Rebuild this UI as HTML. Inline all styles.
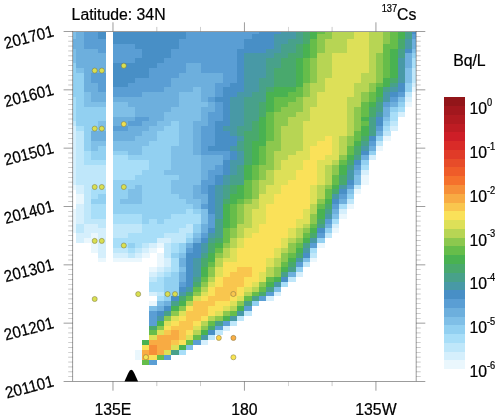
<!DOCTYPE html>
<html><head><meta charset="utf-8"><title>137Cs Hovmoller</title>
<style>
html,body{margin:0;padding:0;background:#fff;}
body{width:500px;height:420px;overflow:hidden;}
svg{display:block;}
text{font-family:"Liberation Sans",Arial,Helvetica,sans-serif;fill:#000;stroke:#000;stroke-width:0.22px;}
</style></head><body>
<svg width="500" height="420" viewBox="0 0 500 420">
<rect width="500" height="420" fill="#fff"/>
<g shape-rendering="crispEdges">
<rect x="72.80" y="31.50" width="3.70" height="2.48" fill="#7fbfe7"/>
<rect x="76.45" y="31.50" width="7.35" height="2.48" fill="#6dafdd"/>
<rect x="83.75" y="31.50" width="14.66" height="2.48" fill="#5a9ed4"/>
<rect x="98.36" y="31.50" width="7.35" height="2.48" fill="#488fc6"/>
<rect x="112.96" y="31.50" width="73.08" height="2.48" fill="#488fc6"/>
<rect x="185.99" y="31.50" width="73.07" height="2.48" fill="#5a9ed4"/>
<rect x="259.01" y="31.50" width="21.96" height="2.48" fill="#488fc6"/>
<rect x="280.92" y="31.50" width="14.66" height="2.48" fill="#4899a6"/>
<rect x="295.53" y="31.50" width="7.35" height="2.48" fill="#48a18a"/>
<rect x="302.83" y="31.50" width="7.35" height="2.48" fill="#49a96d"/>
<rect x="310.13" y="31.50" width="7.35" height="2.48" fill="#49b251"/>
<rect x="317.43" y="31.50" width="7.35" height="2.48" fill="#66bd4a"/>
<rect x="324.74" y="31.50" width="7.35" height="2.48" fill="#8cc84e"/>
<rect x="332.04" y="31.50" width="21.96" height="2.48" fill="#b7d554"/>
<rect x="353.94" y="31.50" width="14.66" height="2.48" fill="#dde058"/>
<rect x="368.55" y="31.50" width="14.65" height="2.48" fill="#b7d554"/>
<rect x="383.15" y="31.50" width="7.35" height="2.48" fill="#8cc84e"/>
<rect x="390.46" y="31.50" width="7.35" height="2.48" fill="#66bd4a"/>
<rect x="397.76" y="31.50" width="7.35" height="2.48" fill="#49b251"/>
<rect x="405.06" y="31.50" width="7.35" height="2.48" fill="#48a18a"/>
<rect x="412.37" y="31.50" width="3.79" height="2.48" fill="#488fc6"/>
<rect x="72.80" y="33.93" width="3.70" height="4.91" fill="#7fbfe7"/>
<rect x="76.45" y="33.93" width="7.35" height="4.91" fill="#6dafdd"/>
<rect x="83.75" y="33.93" width="14.66" height="4.91" fill="#5a9ed4"/>
<rect x="98.36" y="33.93" width="7.35" height="4.91" fill="#488fc6"/>
<rect x="112.96" y="33.93" width="73.08" height="4.91" fill="#488fc6"/>
<rect x="185.99" y="33.93" width="65.77" height="4.91" fill="#5a9ed4"/>
<rect x="251.71" y="33.93" width="21.96" height="4.91" fill="#488fc6"/>
<rect x="273.62" y="33.93" width="21.96" height="4.91" fill="#4899a6"/>
<rect x="295.53" y="33.93" width="7.35" height="4.91" fill="#48a18a"/>
<rect x="302.83" y="33.93" width="7.35" height="4.91" fill="#49a96d"/>
<rect x="310.13" y="33.93" width="7.35" height="4.91" fill="#49b251"/>
<rect x="317.43" y="33.93" width="14.66" height="4.91" fill="#8cc84e"/>
<rect x="332.04" y="33.93" width="21.96" height="4.91" fill="#b7d554"/>
<rect x="353.94" y="33.93" width="14.66" height="4.91" fill="#dde058"/>
<rect x="368.55" y="33.93" width="14.65" height="4.91" fill="#b7d554"/>
<rect x="383.15" y="33.93" width="7.35" height="4.91" fill="#8cc84e"/>
<rect x="390.46" y="33.93" width="7.35" height="4.91" fill="#66bd4a"/>
<rect x="397.76" y="33.93" width="7.35" height="4.91" fill="#49b251"/>
<rect x="405.06" y="33.93" width="7.35" height="4.91" fill="#48a18a"/>
<rect x="412.37" y="33.93" width="3.79" height="4.91" fill="#5a9ed4"/>
<rect x="72.80" y="38.79" width="11.00" height="4.91" fill="#6dafdd"/>
<rect x="83.75" y="38.79" width="21.96" height="4.91" fill="#5a9ed4"/>
<rect x="112.96" y="38.79" width="65.77" height="4.91" fill="#488fc6"/>
<rect x="178.69" y="38.79" width="65.77" height="4.91" fill="#5a9ed4"/>
<rect x="244.41" y="38.79" width="29.26" height="4.91" fill="#488fc6"/>
<rect x="273.62" y="38.79" width="14.66" height="4.91" fill="#4899a6"/>
<rect x="288.22" y="38.79" width="14.65" height="4.91" fill="#48a18a"/>
<rect x="302.83" y="38.79" width="7.35" height="4.91" fill="#49a96d"/>
<rect x="310.13" y="38.79" width="7.35" height="4.91" fill="#66bd4a"/>
<rect x="317.43" y="38.79" width="7.35" height="4.91" fill="#8cc84e"/>
<rect x="324.74" y="38.79" width="21.96" height="4.91" fill="#b7d554"/>
<rect x="346.64" y="38.79" width="21.96" height="4.91" fill="#dde058"/>
<rect x="368.55" y="38.79" width="14.65" height="4.91" fill="#b7d554"/>
<rect x="383.15" y="38.79" width="7.35" height="4.91" fill="#8cc84e"/>
<rect x="390.46" y="38.79" width="7.35" height="4.91" fill="#66bd4a"/>
<rect x="397.76" y="38.79" width="7.35" height="4.91" fill="#49a96d"/>
<rect x="405.06" y="38.79" width="7.35" height="4.91" fill="#4899a6"/>
<rect x="412.37" y="38.79" width="3.79" height="4.91" fill="#6dafdd"/>
<rect x="72.80" y="43.65" width="11.00" height="4.91" fill="#6dafdd"/>
<rect x="83.75" y="43.65" width="21.96" height="4.91" fill="#5a9ed4"/>
<rect x="112.96" y="43.65" width="21.96" height="4.91" fill="#5a9ed4"/>
<rect x="134.87" y="43.65" width="43.86" height="4.91" fill="#488fc6"/>
<rect x="178.69" y="43.65" width="65.77" height="4.91" fill="#5a9ed4"/>
<rect x="244.41" y="43.65" width="29.26" height="4.91" fill="#488fc6"/>
<rect x="273.62" y="43.65" width="7.35" height="4.91" fill="#4899a6"/>
<rect x="280.92" y="43.65" width="14.66" height="4.91" fill="#48a18a"/>
<rect x="295.53" y="43.65" width="7.35" height="4.91" fill="#49a96d"/>
<rect x="302.83" y="43.65" width="7.35" height="4.91" fill="#49b251"/>
<rect x="310.13" y="43.65" width="7.35" height="4.91" fill="#66bd4a"/>
<rect x="317.43" y="43.65" width="7.35" height="4.91" fill="#8cc84e"/>
<rect x="324.74" y="43.65" width="21.96" height="4.91" fill="#b7d554"/>
<rect x="346.64" y="43.65" width="21.96" height="4.91" fill="#dde058"/>
<rect x="368.55" y="43.65" width="14.65" height="4.91" fill="#b7d554"/>
<rect x="383.15" y="43.65" width="14.66" height="4.91" fill="#66bd4a"/>
<rect x="397.76" y="43.65" width="7.35" height="4.91" fill="#49a96d"/>
<rect x="405.06" y="43.65" width="7.35" height="4.91" fill="#4899a6"/>
<rect x="412.37" y="43.65" width="3.79" height="4.91" fill="#6dafdd"/>
<rect x="72.80" y="48.51" width="3.70" height="4.91" fill="#7fbfe7"/>
<rect x="76.45" y="48.51" width="21.96" height="4.91" fill="#6dafdd"/>
<rect x="98.36" y="48.51" width="7.35" height="4.91" fill="#5a9ed4"/>
<rect x="112.96" y="48.51" width="29.26" height="4.91" fill="#5a9ed4"/>
<rect x="142.17" y="48.51" width="29.26" height="4.91" fill="#488fc6"/>
<rect x="171.38" y="48.51" width="65.77" height="4.91" fill="#5a9ed4"/>
<rect x="237.11" y="48.51" width="29.26" height="4.91" fill="#488fc6"/>
<rect x="266.31" y="48.51" width="14.66" height="4.91" fill="#4899a6"/>
<rect x="280.92" y="48.51" width="14.66" height="4.91" fill="#48a18a"/>
<rect x="295.53" y="48.51" width="7.35" height="4.91" fill="#49a96d"/>
<rect x="302.83" y="48.51" width="7.35" height="4.91" fill="#49b251"/>
<rect x="310.13" y="48.51" width="7.35" height="4.91" fill="#66bd4a"/>
<rect x="317.43" y="48.51" width="7.35" height="4.91" fill="#8cc84e"/>
<rect x="324.74" y="48.51" width="21.96" height="4.91" fill="#b7d554"/>
<rect x="346.64" y="48.51" width="21.96" height="4.91" fill="#dde058"/>
<rect x="368.55" y="48.51" width="14.65" height="4.91" fill="#b7d554"/>
<rect x="383.15" y="48.51" width="7.35" height="4.91" fill="#66bd4a"/>
<rect x="390.46" y="48.51" width="7.35" height="4.91" fill="#49b251"/>
<rect x="397.76" y="48.51" width="7.35" height="4.91" fill="#48a18a"/>
<rect x="405.06" y="48.51" width="7.35" height="4.91" fill="#488fc6"/>
<rect x="412.37" y="48.51" width="3.79" height="4.91" fill="#7fbfe7"/>
<rect x="72.80" y="53.37" width="3.70" height="4.91" fill="#7fbfe7"/>
<rect x="76.45" y="53.37" width="29.26" height="4.91" fill="#6dafdd"/>
<rect x="112.96" y="53.37" width="29.26" height="4.91" fill="#5a9ed4"/>
<rect x="142.17" y="53.37" width="29.26" height="4.91" fill="#488fc6"/>
<rect x="171.38" y="53.37" width="65.77" height="4.91" fill="#5a9ed4"/>
<rect x="237.11" y="53.37" width="7.35" height="4.91" fill="#488fc6"/>
<rect x="244.41" y="53.37" width="29.26" height="4.91" fill="#4899a6"/>
<rect x="273.62" y="53.37" width="14.66" height="4.91" fill="#48a18a"/>
<rect x="288.22" y="53.37" width="14.65" height="4.91" fill="#49a96d"/>
<rect x="302.83" y="53.37" width="7.35" height="4.91" fill="#49b251"/>
<rect x="310.13" y="53.37" width="7.35" height="4.91" fill="#66bd4a"/>
<rect x="317.43" y="53.37" width="14.66" height="4.91" fill="#b7d554"/>
<rect x="332.04" y="53.37" width="36.56" height="4.91" fill="#dde058"/>
<rect x="368.55" y="53.37" width="7.35" height="4.91" fill="#b7d554"/>
<rect x="375.85" y="53.37" width="7.35" height="4.91" fill="#8cc84e"/>
<rect x="383.15" y="53.37" width="7.35" height="4.91" fill="#66bd4a"/>
<rect x="390.46" y="53.37" width="7.35" height="4.91" fill="#49b251"/>
<rect x="397.76" y="53.37" width="7.35" height="4.91" fill="#48a18a"/>
<rect x="405.06" y="53.37" width="7.35" height="4.91" fill="#6dafdd"/>
<rect x="412.37" y="53.37" width="3.79" height="4.91" fill="#92d0f1"/>
<rect x="72.80" y="58.23" width="3.70" height="4.91" fill="#7fbfe7"/>
<rect x="76.45" y="58.23" width="29.26" height="4.91" fill="#6dafdd"/>
<rect x="112.96" y="58.23" width="21.96" height="4.91" fill="#5a9ed4"/>
<rect x="134.87" y="58.23" width="29.26" height="4.91" fill="#488fc6"/>
<rect x="164.08" y="58.23" width="73.08" height="4.91" fill="#5a9ed4"/>
<rect x="237.11" y="58.23" width="7.35" height="4.91" fill="#488fc6"/>
<rect x="244.41" y="58.23" width="21.96" height="4.91" fill="#4899a6"/>
<rect x="266.31" y="58.23" width="14.66" height="4.91" fill="#48a18a"/>
<rect x="280.92" y="58.23" width="14.66" height="4.91" fill="#49a96d"/>
<rect x="295.53" y="58.23" width="7.35" height="4.91" fill="#49b251"/>
<rect x="302.83" y="58.23" width="7.35" height="4.91" fill="#66bd4a"/>
<rect x="310.13" y="58.23" width="7.35" height="4.91" fill="#8cc84e"/>
<rect x="317.43" y="58.23" width="14.66" height="4.91" fill="#b7d554"/>
<rect x="332.04" y="58.23" width="36.56" height="4.91" fill="#dde058"/>
<rect x="368.55" y="58.23" width="7.35" height="4.91" fill="#b7d554"/>
<rect x="375.85" y="58.23" width="7.35" height="4.91" fill="#8cc84e"/>
<rect x="383.15" y="58.23" width="7.35" height="4.91" fill="#66bd4a"/>
<rect x="390.46" y="58.23" width="7.35" height="4.91" fill="#49b251"/>
<rect x="397.76" y="58.23" width="7.35" height="4.91" fill="#4899a6"/>
<rect x="405.06" y="58.23" width="7.35" height="4.91" fill="#6dafdd"/>
<rect x="412.37" y="58.23" width="3.79" height="4.91" fill="#a8def8"/>
<rect x="72.80" y="63.10" width="3.70" height="4.91" fill="#92d0f1"/>
<rect x="76.45" y="63.10" width="29.26" height="4.91" fill="#6dafdd"/>
<rect x="112.96" y="63.10" width="43.86" height="4.91" fill="#488fc6"/>
<rect x="156.78" y="63.10" width="29.26" height="4.91" fill="#5a9ed4"/>
<rect x="185.99" y="63.10" width="14.65" height="4.91" fill="#6dafdd"/>
<rect x="200.59" y="63.10" width="36.56" height="4.91" fill="#5a9ed4"/>
<rect x="237.11" y="63.10" width="7.35" height="4.91" fill="#488fc6"/>
<rect x="244.41" y="63.10" width="21.96" height="4.91" fill="#4899a6"/>
<rect x="266.31" y="63.10" width="14.66" height="4.91" fill="#48a18a"/>
<rect x="280.92" y="63.10" width="14.66" height="4.91" fill="#49a96d"/>
<rect x="295.53" y="63.10" width="7.35" height="4.91" fill="#49b251"/>
<rect x="302.83" y="63.10" width="7.35" height="4.91" fill="#66bd4a"/>
<rect x="310.13" y="63.10" width="7.35" height="4.91" fill="#8cc84e"/>
<rect x="317.43" y="63.10" width="14.66" height="4.91" fill="#b7d554"/>
<rect x="332.04" y="63.10" width="36.56" height="4.91" fill="#dde058"/>
<rect x="368.55" y="63.10" width="7.35" height="4.91" fill="#b7d554"/>
<rect x="375.85" y="63.10" width="7.35" height="4.91" fill="#8cc84e"/>
<rect x="383.15" y="63.10" width="7.35" height="4.91" fill="#66bd4a"/>
<rect x="390.46" y="63.10" width="7.35" height="4.91" fill="#49b251"/>
<rect x="397.76" y="63.10" width="7.35" height="4.91" fill="#4899a6"/>
<rect x="405.06" y="63.10" width="7.35" height="4.91" fill="#6dafdd"/>
<rect x="412.37" y="63.10" width="3.79" height="4.91" fill="#a8def8"/>
<rect x="72.80" y="67.96" width="3.70" height="4.91" fill="#92d0f1"/>
<rect x="76.45" y="67.96" width="7.35" height="4.91" fill="#7fbfe7"/>
<rect x="83.75" y="67.96" width="21.96" height="4.91" fill="#6dafdd"/>
<rect x="112.96" y="67.96" width="36.56" height="4.91" fill="#488fc6"/>
<rect x="149.48" y="67.96" width="36.56" height="4.91" fill="#5a9ed4"/>
<rect x="185.99" y="67.96" width="14.65" height="4.91" fill="#6dafdd"/>
<rect x="200.59" y="67.96" width="36.56" height="4.91" fill="#5a9ed4"/>
<rect x="237.11" y="67.96" width="7.35" height="4.91" fill="#488fc6"/>
<rect x="244.41" y="67.96" width="21.96" height="4.91" fill="#4899a6"/>
<rect x="266.31" y="67.96" width="7.35" height="4.91" fill="#48a18a"/>
<rect x="273.62" y="67.96" width="21.96" height="4.91" fill="#49a96d"/>
<rect x="295.53" y="67.96" width="7.35" height="4.91" fill="#49b251"/>
<rect x="302.83" y="67.96" width="7.35" height="4.91" fill="#66bd4a"/>
<rect x="310.13" y="67.96" width="7.35" height="4.91" fill="#8cc84e"/>
<rect x="317.43" y="67.96" width="14.66" height="4.91" fill="#b7d554"/>
<rect x="332.04" y="67.96" width="36.56" height="4.91" fill="#dde058"/>
<rect x="368.55" y="67.96" width="7.35" height="4.91" fill="#b7d554"/>
<rect x="375.85" y="67.96" width="7.35" height="4.91" fill="#8cc84e"/>
<rect x="383.15" y="67.96" width="7.35" height="4.91" fill="#66bd4a"/>
<rect x="390.46" y="67.96" width="7.35" height="4.91" fill="#49b251"/>
<rect x="397.76" y="67.96" width="7.35" height="4.91" fill="#4899a6"/>
<rect x="405.06" y="67.96" width="7.35" height="4.91" fill="#7fbfe7"/>
<rect x="412.37" y="67.96" width="3.79" height="4.91" fill="#bfe7fa"/>
<rect x="72.80" y="72.82" width="11.00" height="4.91" fill="#92d0f1"/>
<rect x="83.75" y="72.82" width="7.35" height="4.91" fill="#6dafdd"/>
<rect x="91.06" y="72.82" width="14.65" height="4.91" fill="#5a9ed4"/>
<rect x="112.96" y="72.82" width="36.56" height="4.91" fill="#488fc6"/>
<rect x="149.48" y="72.82" width="29.26" height="4.91" fill="#5a9ed4"/>
<rect x="178.69" y="72.82" width="43.86" height="4.91" fill="#6dafdd"/>
<rect x="222.50" y="72.82" width="14.66" height="4.91" fill="#5a9ed4"/>
<rect x="237.11" y="72.82" width="7.35" height="4.91" fill="#488fc6"/>
<rect x="244.41" y="72.82" width="21.96" height="4.91" fill="#4899a6"/>
<rect x="266.31" y="72.82" width="7.35" height="4.91" fill="#48a18a"/>
<rect x="273.62" y="72.82" width="21.96" height="4.91" fill="#49a96d"/>
<rect x="295.53" y="72.82" width="7.35" height="4.91" fill="#49b251"/>
<rect x="302.83" y="72.82" width="7.35" height="4.91" fill="#66bd4a"/>
<rect x="310.13" y="72.82" width="7.35" height="4.91" fill="#8cc84e"/>
<rect x="317.43" y="72.82" width="14.66" height="4.91" fill="#b7d554"/>
<rect x="332.04" y="72.82" width="29.26" height="4.91" fill="#dde058"/>
<rect x="361.25" y="72.82" width="14.66" height="4.91" fill="#b7d554"/>
<rect x="375.85" y="72.82" width="7.35" height="4.91" fill="#8cc84e"/>
<rect x="383.15" y="72.82" width="7.35" height="4.91" fill="#66bd4a"/>
<rect x="390.46" y="72.82" width="7.35" height="4.91" fill="#49b251"/>
<rect x="397.76" y="72.82" width="7.35" height="4.91" fill="#4899a6"/>
<rect x="405.06" y="72.82" width="7.35" height="4.91" fill="#7fbfe7"/>
<rect x="412.37" y="72.82" width="3.79" height="4.91" fill="#bfe7fa"/>
<rect x="72.80" y="77.68" width="11.00" height="4.91" fill="#92d0f1"/>
<rect x="83.75" y="77.68" width="7.35" height="4.91" fill="#6dafdd"/>
<rect x="91.06" y="77.68" width="14.65" height="4.91" fill="#5a9ed4"/>
<rect x="112.96" y="77.68" width="21.96" height="4.91" fill="#488fc6"/>
<rect x="134.87" y="77.68" width="36.56" height="4.91" fill="#5a9ed4"/>
<rect x="171.38" y="77.68" width="51.17" height="4.91" fill="#6dafdd"/>
<rect x="222.50" y="77.68" width="14.66" height="4.91" fill="#5a9ed4"/>
<rect x="237.11" y="77.68" width="7.35" height="4.91" fill="#488fc6"/>
<rect x="244.41" y="77.68" width="14.65" height="4.91" fill="#4899a6"/>
<rect x="259.01" y="77.68" width="14.66" height="4.91" fill="#48a18a"/>
<rect x="273.62" y="77.68" width="21.96" height="4.91" fill="#49a96d"/>
<rect x="295.53" y="77.68" width="7.35" height="4.91" fill="#49b251"/>
<rect x="302.83" y="77.68" width="7.35" height="4.91" fill="#66bd4a"/>
<rect x="310.13" y="77.68" width="7.35" height="4.91" fill="#8cc84e"/>
<rect x="317.43" y="77.68" width="7.35" height="4.91" fill="#b7d554"/>
<rect x="324.74" y="77.68" width="36.56" height="4.91" fill="#dde058"/>
<rect x="361.25" y="77.68" width="14.66" height="4.91" fill="#b7d554"/>
<rect x="375.85" y="77.68" width="7.35" height="4.91" fill="#8cc84e"/>
<rect x="383.15" y="77.68" width="7.35" height="4.91" fill="#49b251"/>
<rect x="390.46" y="77.68" width="7.35" height="4.91" fill="#49a96d"/>
<rect x="397.76" y="77.68" width="7.35" height="4.91" fill="#4899a6"/>
<rect x="405.06" y="77.68" width="7.35" height="4.91" fill="#7fbfe7"/>
<rect x="412.37" y="77.68" width="3.79" height="4.91" fill="#bfe7fa"/>
<rect x="72.80" y="82.54" width="11.00" height="4.91" fill="#92d0f1"/>
<rect x="83.75" y="82.54" width="14.66" height="4.91" fill="#6dafdd"/>
<rect x="98.36" y="82.54" width="7.35" height="4.91" fill="#5a9ed4"/>
<rect x="112.96" y="82.54" width="14.65" height="4.91" fill="#488fc6"/>
<rect x="127.57" y="82.54" width="43.86" height="4.91" fill="#5a9ed4"/>
<rect x="171.38" y="82.54" width="43.86" height="4.91" fill="#6dafdd"/>
<rect x="215.20" y="82.54" width="14.66" height="4.91" fill="#5a9ed4"/>
<rect x="229.80" y="82.54" width="14.66" height="4.91" fill="#488fc6"/>
<rect x="244.41" y="82.54" width="14.65" height="4.91" fill="#4899a6"/>
<rect x="259.01" y="82.54" width="14.66" height="4.91" fill="#48a18a"/>
<rect x="273.62" y="82.54" width="21.96" height="4.91" fill="#49a96d"/>
<rect x="295.53" y="82.54" width="7.35" height="4.91" fill="#49b251"/>
<rect x="302.83" y="82.54" width="7.35" height="4.91" fill="#8cc84e"/>
<rect x="310.13" y="82.54" width="14.66" height="4.91" fill="#b7d554"/>
<rect x="324.74" y="82.54" width="29.26" height="4.91" fill="#dde058"/>
<rect x="353.94" y="82.54" width="14.66" height="4.91" fill="#b7d554"/>
<rect x="368.55" y="82.54" width="7.35" height="4.91" fill="#8cc84e"/>
<rect x="375.85" y="82.54" width="7.35" height="4.91" fill="#66bd4a"/>
<rect x="383.15" y="82.54" width="7.35" height="4.91" fill="#49b251"/>
<rect x="390.46" y="82.54" width="7.35" height="4.91" fill="#48a18a"/>
<rect x="397.76" y="82.54" width="7.35" height="4.91" fill="#488fc6"/>
<rect x="405.06" y="82.54" width="7.35" height="4.91" fill="#92d0f1"/>
<rect x="412.37" y="82.54" width="3.79" height="4.91" fill="#d5effc"/>
<rect x="72.80" y="87.40" width="11.00" height="4.91" fill="#92d0f1"/>
<rect x="83.75" y="87.40" width="14.66" height="4.91" fill="#6dafdd"/>
<rect x="98.36" y="87.40" width="7.35" height="4.91" fill="#5a9ed4"/>
<rect x="112.96" y="87.40" width="51.17" height="4.91" fill="#5a9ed4"/>
<rect x="164.08" y="87.40" width="29.26" height="4.91" fill="#6dafdd"/>
<rect x="193.29" y="87.40" width="7.35" height="4.91" fill="#7fbfe7"/>
<rect x="200.59" y="87.40" width="14.65" height="4.91" fill="#6dafdd"/>
<rect x="215.20" y="87.40" width="7.35" height="4.91" fill="#5a9ed4"/>
<rect x="222.50" y="87.40" width="21.96" height="4.91" fill="#488fc6"/>
<rect x="244.41" y="87.40" width="14.65" height="4.91" fill="#4899a6"/>
<rect x="259.01" y="87.40" width="7.35" height="4.91" fill="#48a18a"/>
<rect x="266.31" y="87.40" width="7.35" height="4.91" fill="#49a96d"/>
<rect x="273.62" y="87.40" width="21.96" height="4.91" fill="#49b251"/>
<rect x="295.53" y="87.40" width="7.35" height="4.91" fill="#66bd4a"/>
<rect x="302.83" y="87.40" width="7.35" height="4.91" fill="#8cc84e"/>
<rect x="310.13" y="87.40" width="14.66" height="4.91" fill="#b7d554"/>
<rect x="324.74" y="87.40" width="29.26" height="4.91" fill="#dde058"/>
<rect x="353.94" y="87.40" width="14.66" height="4.91" fill="#b7d554"/>
<rect x="368.55" y="87.40" width="7.35" height="4.91" fill="#8cc84e"/>
<rect x="375.85" y="87.40" width="7.35" height="4.91" fill="#49b251"/>
<rect x="383.15" y="87.40" width="7.35" height="4.91" fill="#48a18a"/>
<rect x="390.46" y="87.40" width="7.35" height="4.91" fill="#4899a6"/>
<rect x="397.76" y="87.40" width="7.35" height="4.91" fill="#488fc6"/>
<rect x="405.06" y="87.40" width="7.35" height="4.91" fill="#92d0f1"/>
<rect x="412.37" y="87.40" width="3.79" height="4.91" fill="#eaf7fd"/>
<rect x="72.80" y="92.26" width="11.00" height="4.91" fill="#92d0f1"/>
<rect x="83.75" y="92.26" width="7.35" height="4.91" fill="#7fbfe7"/>
<rect x="91.06" y="92.26" width="14.65" height="4.91" fill="#6dafdd"/>
<rect x="112.96" y="92.26" width="29.26" height="4.91" fill="#5a9ed4"/>
<rect x="142.17" y="92.26" width="36.56" height="4.91" fill="#6dafdd"/>
<rect x="178.69" y="92.26" width="21.96" height="4.91" fill="#7fbfe7"/>
<rect x="200.59" y="92.26" width="14.65" height="4.91" fill="#6dafdd"/>
<rect x="215.20" y="92.26" width="7.35" height="4.91" fill="#5a9ed4"/>
<rect x="222.50" y="92.26" width="14.66" height="4.91" fill="#488fc6"/>
<rect x="237.11" y="92.26" width="14.65" height="4.91" fill="#4899a6"/>
<rect x="251.71" y="92.26" width="14.66" height="4.91" fill="#48a18a"/>
<rect x="266.31" y="92.26" width="21.96" height="4.91" fill="#49b251"/>
<rect x="288.22" y="92.26" width="14.65" height="4.91" fill="#66bd4a"/>
<rect x="302.83" y="92.26" width="7.35" height="4.91" fill="#8cc84e"/>
<rect x="310.13" y="92.26" width="7.35" height="4.91" fill="#b7d554"/>
<rect x="317.43" y="92.26" width="36.56" height="4.91" fill="#dde058"/>
<rect x="353.94" y="92.26" width="7.35" height="4.91" fill="#b7d554"/>
<rect x="361.25" y="92.26" width="7.35" height="4.91" fill="#8cc84e"/>
<rect x="368.55" y="92.26" width="7.35" height="4.91" fill="#66bd4a"/>
<rect x="375.85" y="92.26" width="7.35" height="4.91" fill="#49b251"/>
<rect x="383.15" y="92.26" width="7.35" height="4.91" fill="#4899a6"/>
<rect x="390.46" y="92.26" width="7.35" height="4.91" fill="#488fc6"/>
<rect x="397.76" y="92.26" width="7.35" height="4.91" fill="#5a9ed4"/>
<rect x="405.06" y="92.26" width="7.35" height="4.91" fill="#bfe7fa"/>
<rect x="72.80" y="97.12" width="3.70" height="4.91" fill="#a8def8"/>
<rect x="76.45" y="97.12" width="7.35" height="4.91" fill="#92d0f1"/>
<rect x="83.75" y="97.12" width="7.35" height="4.91" fill="#7fbfe7"/>
<rect x="91.06" y="97.12" width="14.65" height="4.91" fill="#6dafdd"/>
<rect x="112.96" y="97.12" width="65.77" height="4.91" fill="#6dafdd"/>
<rect x="178.69" y="97.12" width="21.96" height="4.91" fill="#7fbfe7"/>
<rect x="200.59" y="97.12" width="7.35" height="4.91" fill="#6dafdd"/>
<rect x="207.89" y="97.12" width="7.35" height="4.91" fill="#5a9ed4"/>
<rect x="215.20" y="97.12" width="14.66" height="4.91" fill="#488fc6"/>
<rect x="229.80" y="97.12" width="14.66" height="4.91" fill="#4899a6"/>
<rect x="244.41" y="97.12" width="21.96" height="4.91" fill="#48a18a"/>
<rect x="266.31" y="97.12" width="7.35" height="4.91" fill="#49b251"/>
<rect x="273.62" y="97.12" width="21.96" height="4.91" fill="#66bd4a"/>
<rect x="295.53" y="97.12" width="7.35" height="4.91" fill="#8cc84e"/>
<rect x="302.83" y="97.12" width="14.66" height="4.91" fill="#b7d554"/>
<rect x="317.43" y="97.12" width="29.26" height="4.91" fill="#dde058"/>
<rect x="346.64" y="97.12" width="14.66" height="4.91" fill="#b7d554"/>
<rect x="361.25" y="97.12" width="7.35" height="4.91" fill="#8cc84e"/>
<rect x="368.55" y="97.12" width="7.35" height="4.91" fill="#66bd4a"/>
<rect x="375.85" y="97.12" width="7.35" height="4.91" fill="#49a96d"/>
<rect x="383.15" y="97.12" width="7.35" height="4.91" fill="#4899a6"/>
<rect x="390.46" y="97.12" width="7.35" height="4.91" fill="#5a9ed4"/>
<rect x="397.76" y="97.12" width="7.35" height="4.91" fill="#7fbfe7"/>
<rect x="405.06" y="97.12" width="7.35" height="4.91" fill="#d5effc"/>
<rect x="72.80" y="101.98" width="3.70" height="4.91" fill="#a8def8"/>
<rect x="76.45" y="101.98" width="7.35" height="4.91" fill="#92d0f1"/>
<rect x="83.75" y="101.98" width="21.96" height="4.91" fill="#7fbfe7"/>
<rect x="112.96" y="101.98" width="14.65" height="4.91" fill="#7fbfe7"/>
<rect x="127.57" y="101.98" width="51.17" height="4.91" fill="#6dafdd"/>
<rect x="178.69" y="101.98" width="29.26" height="4.91" fill="#7fbfe7"/>
<rect x="207.89" y="101.98" width="7.35" height="4.91" fill="#6dafdd"/>
<rect x="215.20" y="101.98" width="7.35" height="4.91" fill="#5a9ed4"/>
<rect x="222.50" y="101.98" width="7.35" height="4.91" fill="#488fc6"/>
<rect x="229.80" y="101.98" width="14.66" height="4.91" fill="#4899a6"/>
<rect x="244.41" y="101.98" width="14.65" height="4.91" fill="#48a18a"/>
<rect x="259.01" y="101.98" width="7.35" height="4.91" fill="#49a96d"/>
<rect x="266.31" y="101.98" width="7.35" height="4.91" fill="#49b251"/>
<rect x="273.62" y="101.98" width="14.66" height="4.91" fill="#66bd4a"/>
<rect x="288.22" y="101.98" width="14.65" height="4.91" fill="#8cc84e"/>
<rect x="302.83" y="101.98" width="14.66" height="4.91" fill="#b7d554"/>
<rect x="317.43" y="101.98" width="29.26" height="4.91" fill="#dde058"/>
<rect x="346.64" y="101.98" width="14.66" height="4.91" fill="#b7d554"/>
<rect x="361.25" y="101.98" width="7.35" height="4.91" fill="#66bd4a"/>
<rect x="368.55" y="101.98" width="7.35" height="4.91" fill="#49b251"/>
<rect x="375.85" y="101.98" width="7.35" height="4.91" fill="#48a18a"/>
<rect x="383.15" y="101.98" width="7.35" height="4.91" fill="#5a9ed4"/>
<rect x="390.46" y="101.98" width="7.35" height="4.91" fill="#6dafdd"/>
<rect x="397.76" y="101.98" width="7.35" height="4.91" fill="#92d0f1"/>
<rect x="405.06" y="101.98" width="7.35" height="4.91" fill="#eaf7fd"/>
<rect x="72.80" y="106.84" width="3.70" height="4.91" fill="#a8def8"/>
<rect x="76.45" y="106.84" width="29.26" height="4.91" fill="#92d0f1"/>
<rect x="112.96" y="106.84" width="21.96" height="4.91" fill="#7fbfe7"/>
<rect x="134.87" y="106.84" width="36.56" height="4.91" fill="#6dafdd"/>
<rect x="171.38" y="106.84" width="29.26" height="4.91" fill="#7fbfe7"/>
<rect x="200.59" y="106.84" width="14.65" height="4.91" fill="#6dafdd"/>
<rect x="215.20" y="106.84" width="7.35" height="4.91" fill="#5a9ed4"/>
<rect x="222.50" y="106.84" width="7.35" height="4.91" fill="#488fc6"/>
<rect x="229.80" y="106.84" width="14.66" height="4.91" fill="#4899a6"/>
<rect x="244.41" y="106.84" width="14.65" height="4.91" fill="#48a18a"/>
<rect x="259.01" y="106.84" width="7.35" height="4.91" fill="#49a96d"/>
<rect x="266.31" y="106.84" width="7.35" height="4.91" fill="#49b251"/>
<rect x="273.62" y="106.84" width="7.35" height="4.91" fill="#66bd4a"/>
<rect x="280.92" y="106.84" width="21.96" height="4.91" fill="#8cc84e"/>
<rect x="302.83" y="106.84" width="7.35" height="4.91" fill="#b7d554"/>
<rect x="310.13" y="106.84" width="36.56" height="4.91" fill="#dde058"/>
<rect x="346.64" y="106.84" width="7.35" height="4.91" fill="#b7d554"/>
<rect x="353.94" y="106.84" width="7.35" height="4.91" fill="#8cc84e"/>
<rect x="361.25" y="106.84" width="7.35" height="4.91" fill="#66bd4a"/>
<rect x="368.55" y="106.84" width="7.35" height="4.91" fill="#49a96d"/>
<rect x="375.85" y="106.84" width="7.35" height="4.91" fill="#48a18a"/>
<rect x="383.15" y="106.84" width="7.35" height="4.91" fill="#6dafdd"/>
<rect x="390.46" y="106.84" width="7.35" height="4.91" fill="#92d0f1"/>
<rect x="397.76" y="106.84" width="7.35" height="4.91" fill="#a8def8"/>
<rect x="72.80" y="111.71" width="3.70" height="4.91" fill="#a8def8"/>
<rect x="76.45" y="111.71" width="29.26" height="4.91" fill="#92d0f1"/>
<rect x="112.96" y="111.71" width="21.96" height="4.91" fill="#7fbfe7"/>
<rect x="134.87" y="111.71" width="29.26" height="4.91" fill="#6dafdd"/>
<rect x="164.08" y="111.71" width="36.56" height="4.91" fill="#7fbfe7"/>
<rect x="200.59" y="111.71" width="7.35" height="4.91" fill="#6dafdd"/>
<rect x="207.89" y="111.71" width="14.66" height="4.91" fill="#5a9ed4"/>
<rect x="222.50" y="111.71" width="7.35" height="4.91" fill="#488fc6"/>
<rect x="229.80" y="111.71" width="14.66" height="4.91" fill="#4899a6"/>
<rect x="244.41" y="111.71" width="14.65" height="4.91" fill="#48a18a"/>
<rect x="259.01" y="111.71" width="7.35" height="4.91" fill="#49a96d"/>
<rect x="266.31" y="111.71" width="7.35" height="4.91" fill="#66bd4a"/>
<rect x="273.62" y="111.71" width="21.96" height="4.91" fill="#8cc84e"/>
<rect x="295.53" y="111.71" width="14.65" height="4.91" fill="#b7d554"/>
<rect x="310.13" y="111.71" width="36.56" height="4.91" fill="#dde058"/>
<rect x="346.64" y="111.71" width="7.35" height="4.91" fill="#b7d554"/>
<rect x="353.94" y="111.71" width="7.35" height="4.91" fill="#8cc84e"/>
<rect x="361.25" y="111.71" width="7.35" height="4.91" fill="#66bd4a"/>
<rect x="368.55" y="111.71" width="7.35" height="4.91" fill="#49a96d"/>
<rect x="375.85" y="111.71" width="7.35" height="4.91" fill="#4899a6"/>
<rect x="383.15" y="111.71" width="7.35" height="4.91" fill="#6dafdd"/>
<rect x="390.46" y="111.71" width="7.35" height="4.91" fill="#a8def8"/>
<rect x="397.76" y="111.71" width="7.35" height="4.91" fill="#d5effc"/>
<rect x="72.80" y="116.57" width="3.70" height="4.91" fill="#a8def8"/>
<rect x="76.45" y="116.57" width="29.26" height="4.91" fill="#92d0f1"/>
<rect x="112.96" y="116.57" width="21.96" height="4.91" fill="#6dafdd"/>
<rect x="134.87" y="116.57" width="14.66" height="4.91" fill="#5a9ed4"/>
<rect x="149.48" y="116.57" width="14.65" height="4.91" fill="#6dafdd"/>
<rect x="164.08" y="116.57" width="36.56" height="4.91" fill="#7fbfe7"/>
<rect x="200.59" y="116.57" width="7.35" height="4.91" fill="#6dafdd"/>
<rect x="207.89" y="116.57" width="14.66" height="4.91" fill="#5a9ed4"/>
<rect x="222.50" y="116.57" width="7.35" height="4.91" fill="#488fc6"/>
<rect x="229.80" y="116.57" width="14.66" height="4.91" fill="#4899a6"/>
<rect x="244.41" y="116.57" width="14.65" height="4.91" fill="#48a18a"/>
<rect x="259.01" y="116.57" width="7.35" height="4.91" fill="#49b251"/>
<rect x="266.31" y="116.57" width="7.35" height="4.91" fill="#66bd4a"/>
<rect x="273.62" y="116.57" width="14.66" height="4.91" fill="#8cc84e"/>
<rect x="288.22" y="116.57" width="21.96" height="4.91" fill="#b7d554"/>
<rect x="310.13" y="116.57" width="36.56" height="4.91" fill="#dde058"/>
<rect x="346.64" y="116.57" width="7.35" height="4.91" fill="#b7d554"/>
<rect x="353.94" y="116.57" width="7.35" height="4.91" fill="#8cc84e"/>
<rect x="361.25" y="116.57" width="7.35" height="4.91" fill="#49b251"/>
<rect x="368.55" y="116.57" width="7.35" height="4.91" fill="#48a18a"/>
<rect x="375.85" y="116.57" width="7.35" height="4.91" fill="#488fc6"/>
<rect x="383.15" y="116.57" width="7.35" height="4.91" fill="#7fbfe7"/>
<rect x="390.46" y="116.57" width="7.35" height="4.91" fill="#a8def8"/>
<rect x="72.80" y="121.43" width="3.70" height="4.91" fill="#bfe7fa"/>
<rect x="76.45" y="121.43" width="21.96" height="4.91" fill="#92d0f1"/>
<rect x="98.36" y="121.43" width="7.35" height="4.91" fill="#7fbfe7"/>
<rect x="112.96" y="121.43" width="14.65" height="4.91" fill="#6dafdd"/>
<rect x="127.57" y="121.43" width="14.66" height="4.91" fill="#5a9ed4"/>
<rect x="142.17" y="121.43" width="14.65" height="4.91" fill="#6dafdd"/>
<rect x="156.78" y="121.43" width="14.65" height="4.91" fill="#7fbfe7"/>
<rect x="171.38" y="121.43" width="7.35" height="4.91" fill="#92d0f1"/>
<rect x="178.69" y="121.43" width="14.66" height="4.91" fill="#7fbfe7"/>
<rect x="193.29" y="121.43" width="14.65" height="4.91" fill="#6dafdd"/>
<rect x="207.89" y="121.43" width="7.35" height="4.91" fill="#5a9ed4"/>
<rect x="215.20" y="121.43" width="14.66" height="4.91" fill="#488fc6"/>
<rect x="229.80" y="121.43" width="14.66" height="4.91" fill="#4899a6"/>
<rect x="244.41" y="121.43" width="7.35" height="4.91" fill="#48a18a"/>
<rect x="251.71" y="121.43" width="7.35" height="4.91" fill="#49a96d"/>
<rect x="259.01" y="121.43" width="7.35" height="4.91" fill="#49b251"/>
<rect x="266.31" y="121.43" width="7.35" height="4.91" fill="#66bd4a"/>
<rect x="273.62" y="121.43" width="14.66" height="4.91" fill="#8cc84e"/>
<rect x="288.22" y="121.43" width="14.65" height="4.91" fill="#b7d554"/>
<rect x="302.83" y="121.43" width="43.86" height="4.91" fill="#dde058"/>
<rect x="346.64" y="121.43" width="7.35" height="4.91" fill="#b7d554"/>
<rect x="353.94" y="121.43" width="7.35" height="4.91" fill="#8cc84e"/>
<rect x="361.25" y="121.43" width="7.35" height="4.91" fill="#66bd4a"/>
<rect x="368.55" y="121.43" width="7.35" height="4.91" fill="#48a18a"/>
<rect x="375.85" y="121.43" width="7.35" height="4.91" fill="#488fc6"/>
<rect x="383.15" y="121.43" width="7.35" height="4.91" fill="#92d0f1"/>
<rect x="390.46" y="121.43" width="7.35" height="4.91" fill="#bfe7fa"/>
<rect x="72.80" y="126.29" width="3.70" height="4.91" fill="#d5effc"/>
<rect x="76.45" y="126.29" width="7.35" height="4.91" fill="#a8def8"/>
<rect x="83.75" y="126.29" width="14.66" height="4.91" fill="#92d0f1"/>
<rect x="98.36" y="126.29" width="7.35" height="4.91" fill="#7fbfe7"/>
<rect x="112.96" y="126.29" width="14.65" height="4.91" fill="#5a9ed4"/>
<rect x="127.57" y="126.29" width="21.96" height="4.91" fill="#6dafdd"/>
<rect x="149.48" y="126.29" width="14.65" height="4.91" fill="#7fbfe7"/>
<rect x="164.08" y="126.29" width="14.66" height="4.91" fill="#92d0f1"/>
<rect x="178.69" y="126.29" width="14.66" height="4.91" fill="#7fbfe7"/>
<rect x="193.29" y="126.29" width="7.35" height="4.91" fill="#6dafdd"/>
<rect x="200.59" y="126.29" width="14.65" height="4.91" fill="#5a9ed4"/>
<rect x="215.20" y="126.29" width="7.35" height="4.91" fill="#488fc6"/>
<rect x="222.50" y="126.29" width="14.66" height="4.91" fill="#4899a6"/>
<rect x="237.11" y="126.29" width="14.65" height="4.91" fill="#48a18a"/>
<rect x="251.71" y="126.29" width="7.35" height="4.91" fill="#49a96d"/>
<rect x="259.01" y="126.29" width="7.35" height="4.91" fill="#49b251"/>
<rect x="266.31" y="126.29" width="7.35" height="4.91" fill="#66bd4a"/>
<rect x="273.62" y="126.29" width="7.35" height="4.91" fill="#8cc84e"/>
<rect x="280.92" y="126.29" width="21.96" height="4.91" fill="#b7d554"/>
<rect x="302.83" y="126.29" width="43.86" height="4.91" fill="#dde058"/>
<rect x="346.64" y="126.29" width="7.35" height="4.91" fill="#b7d554"/>
<rect x="353.94" y="126.29" width="7.35" height="4.91" fill="#8cc84e"/>
<rect x="361.25" y="126.29" width="7.35" height="4.91" fill="#49b251"/>
<rect x="368.55" y="126.29" width="7.35" height="4.91" fill="#48a18a"/>
<rect x="375.85" y="126.29" width="7.35" height="4.91" fill="#5a9ed4"/>
<rect x="383.15" y="126.29" width="7.35" height="4.91" fill="#a8def8"/>
<rect x="390.46" y="126.29" width="7.35" height="4.91" fill="#d5effc"/>
<rect x="72.80" y="131.15" width="3.70" height="4.91" fill="#d5effc"/>
<rect x="76.45" y="131.15" width="7.35" height="4.91" fill="#bfe7fa"/>
<rect x="83.75" y="131.15" width="7.35" height="4.91" fill="#92d0f1"/>
<rect x="91.06" y="131.15" width="14.65" height="4.91" fill="#6dafdd"/>
<rect x="112.96" y="131.15" width="29.26" height="4.91" fill="#6dafdd"/>
<rect x="142.17" y="131.15" width="14.65" height="4.91" fill="#7fbfe7"/>
<rect x="156.78" y="131.15" width="21.96" height="4.91" fill="#92d0f1"/>
<rect x="178.69" y="131.15" width="14.66" height="4.91" fill="#7fbfe7"/>
<rect x="193.29" y="131.15" width="7.35" height="4.91" fill="#6dafdd"/>
<rect x="200.59" y="131.15" width="14.65" height="4.91" fill="#5a9ed4"/>
<rect x="215.20" y="131.15" width="14.66" height="4.91" fill="#488fc6"/>
<rect x="229.80" y="131.15" width="7.35" height="4.91" fill="#4899a6"/>
<rect x="237.11" y="131.15" width="7.35" height="4.91" fill="#48a18a"/>
<rect x="244.41" y="131.15" width="14.65" height="4.91" fill="#49a96d"/>
<rect x="259.01" y="131.15" width="7.35" height="4.91" fill="#49b251"/>
<rect x="266.31" y="131.15" width="7.35" height="4.91" fill="#66bd4a"/>
<rect x="273.62" y="131.15" width="7.35" height="4.91" fill="#8cc84e"/>
<rect x="280.92" y="131.15" width="21.96" height="4.91" fill="#b7d554"/>
<rect x="302.83" y="131.15" width="43.86" height="4.91" fill="#dde058"/>
<rect x="346.64" y="131.15" width="7.35" height="4.91" fill="#b7d554"/>
<rect x="353.94" y="131.15" width="7.35" height="4.91" fill="#66bd4a"/>
<rect x="361.25" y="131.15" width="7.35" height="4.91" fill="#49b251"/>
<rect x="368.55" y="131.15" width="7.35" height="4.91" fill="#48a18a"/>
<rect x="375.85" y="131.15" width="7.35" height="4.91" fill="#6dafdd"/>
<rect x="383.15" y="131.15" width="7.35" height="4.91" fill="#bfe7fa"/>
<rect x="72.80" y="136.01" width="3.70" height="4.91" fill="#d5effc"/>
<rect x="76.45" y="136.01" width="7.35" height="4.91" fill="#bfe7fa"/>
<rect x="83.75" y="136.01" width="7.35" height="4.91" fill="#92d0f1"/>
<rect x="91.06" y="136.01" width="14.65" height="4.91" fill="#6dafdd"/>
<rect x="112.96" y="136.01" width="21.96" height="4.91" fill="#6dafdd"/>
<rect x="134.87" y="136.01" width="21.96" height="4.91" fill="#7fbfe7"/>
<rect x="156.78" y="136.01" width="21.96" height="4.91" fill="#92d0f1"/>
<rect x="178.69" y="136.01" width="14.66" height="4.91" fill="#7fbfe7"/>
<rect x="193.29" y="136.01" width="7.35" height="4.91" fill="#6dafdd"/>
<rect x="200.59" y="136.01" width="14.65" height="4.91" fill="#5a9ed4"/>
<rect x="215.20" y="136.01" width="21.96" height="4.91" fill="#488fc6"/>
<rect x="237.11" y="136.01" width="7.35" height="4.91" fill="#4899a6"/>
<rect x="244.41" y="136.01" width="14.65" height="4.91" fill="#49a96d"/>
<rect x="259.01" y="136.01" width="7.35" height="4.91" fill="#49b251"/>
<rect x="266.31" y="136.01" width="7.35" height="4.91" fill="#66bd4a"/>
<rect x="273.62" y="136.01" width="7.35" height="4.91" fill="#8cc84e"/>
<rect x="280.92" y="136.01" width="21.96" height="4.91" fill="#b7d554"/>
<rect x="302.83" y="136.01" width="21.96" height="4.91" fill="#dde058"/>
<rect x="324.74" y="136.01" width="7.35" height="4.91" fill="#fae159"/>
<rect x="332.04" y="136.01" width="7.35" height="4.91" fill="#dde058"/>
<rect x="339.34" y="136.01" width="7.35" height="4.91" fill="#b7d554"/>
<rect x="346.64" y="136.01" width="7.35" height="4.91" fill="#8cc84e"/>
<rect x="353.94" y="136.01" width="7.35" height="4.91" fill="#66bd4a"/>
<rect x="361.25" y="136.01" width="7.35" height="4.91" fill="#49a96d"/>
<rect x="368.55" y="136.01" width="7.35" height="4.91" fill="#488fc6"/>
<rect x="375.85" y="136.01" width="7.35" height="4.91" fill="#92d0f1"/>
<rect x="383.15" y="136.01" width="7.35" height="4.91" fill="#eaf7fd"/>
<rect x="72.80" y="140.87" width="3.70" height="4.91" fill="#d5effc"/>
<rect x="76.45" y="140.87" width="7.35" height="4.91" fill="#bfe7fa"/>
<rect x="83.75" y="140.87" width="7.35" height="4.91" fill="#92d0f1"/>
<rect x="91.06" y="140.87" width="14.65" height="4.91" fill="#7fbfe7"/>
<rect x="112.96" y="140.87" width="36.56" height="4.91" fill="#7fbfe7"/>
<rect x="149.48" y="140.87" width="29.26" height="4.91" fill="#92d0f1"/>
<rect x="178.69" y="140.87" width="14.66" height="4.91" fill="#7fbfe7"/>
<rect x="193.29" y="140.87" width="7.35" height="4.91" fill="#6dafdd"/>
<rect x="200.59" y="140.87" width="14.65" height="4.91" fill="#5a9ed4"/>
<rect x="215.20" y="140.87" width="21.96" height="4.91" fill="#488fc6"/>
<rect x="237.11" y="140.87" width="7.35" height="4.91" fill="#48a18a"/>
<rect x="244.41" y="140.87" width="7.35" height="4.91" fill="#49a96d"/>
<rect x="251.71" y="140.87" width="14.66" height="4.91" fill="#49b251"/>
<rect x="266.31" y="140.87" width="14.66" height="4.91" fill="#8cc84e"/>
<rect x="280.92" y="140.87" width="21.96" height="4.91" fill="#b7d554"/>
<rect x="302.83" y="140.87" width="14.66" height="4.91" fill="#dde058"/>
<rect x="317.43" y="140.87" width="14.66" height="4.91" fill="#fae159"/>
<rect x="332.04" y="140.87" width="7.35" height="4.91" fill="#dde058"/>
<rect x="339.34" y="140.87" width="7.35" height="4.91" fill="#b7d554"/>
<rect x="346.64" y="140.87" width="7.35" height="4.91" fill="#8cc84e"/>
<rect x="353.94" y="140.87" width="7.35" height="4.91" fill="#49b251"/>
<rect x="361.25" y="140.87" width="7.35" height="4.91" fill="#48a18a"/>
<rect x="368.55" y="140.87" width="7.35" height="4.91" fill="#5a9ed4"/>
<rect x="375.85" y="140.87" width="7.35" height="4.91" fill="#bfe7fa"/>
<rect x="72.80" y="145.73" width="3.70" height="4.91" fill="#d5effc"/>
<rect x="76.45" y="145.73" width="7.35" height="4.91" fill="#bfe7fa"/>
<rect x="83.75" y="145.73" width="7.35" height="4.91" fill="#92d0f1"/>
<rect x="91.06" y="145.73" width="7.35" height="4.91" fill="#7fbfe7"/>
<rect x="98.36" y="145.73" width="7.35" height="4.91" fill="#92d0f1"/>
<rect x="112.96" y="145.73" width="29.26" height="4.91" fill="#7fbfe7"/>
<rect x="142.17" y="145.73" width="29.26" height="4.91" fill="#92d0f1"/>
<rect x="171.38" y="145.73" width="21.96" height="4.91" fill="#7fbfe7"/>
<rect x="193.29" y="145.73" width="7.35" height="4.91" fill="#6dafdd"/>
<rect x="200.59" y="145.73" width="7.35" height="4.91" fill="#5a9ed4"/>
<rect x="207.89" y="145.73" width="21.96" height="4.91" fill="#488fc6"/>
<rect x="229.80" y="145.73" width="7.35" height="4.91" fill="#4899a6"/>
<rect x="237.11" y="145.73" width="7.35" height="4.91" fill="#48a18a"/>
<rect x="244.41" y="145.73" width="7.35" height="4.91" fill="#49a96d"/>
<rect x="251.71" y="145.73" width="7.35" height="4.91" fill="#49b251"/>
<rect x="259.01" y="145.73" width="7.35" height="4.91" fill="#66bd4a"/>
<rect x="266.31" y="145.73" width="14.66" height="4.91" fill="#8cc84e"/>
<rect x="280.92" y="145.73" width="21.96" height="4.91" fill="#b7d554"/>
<rect x="302.83" y="145.73" width="7.35" height="4.91" fill="#dde058"/>
<rect x="310.13" y="145.73" width="21.96" height="4.91" fill="#fae159"/>
<rect x="332.04" y="145.73" width="7.35" height="4.91" fill="#dde058"/>
<rect x="339.34" y="145.73" width="7.35" height="4.91" fill="#b7d554"/>
<rect x="346.64" y="145.73" width="7.35" height="4.91" fill="#66bd4a"/>
<rect x="353.94" y="145.73" width="7.35" height="4.91" fill="#49a96d"/>
<rect x="361.25" y="145.73" width="7.35" height="4.91" fill="#4899a6"/>
<rect x="368.55" y="145.73" width="7.35" height="4.91" fill="#6dafdd"/>
<rect x="375.85" y="145.73" width="7.35" height="4.91" fill="#eaf7fd"/>
<rect x="72.80" y="150.59" width="3.70" height="4.91" fill="#d5effc"/>
<rect x="76.45" y="150.59" width="7.35" height="4.91" fill="#bfe7fa"/>
<rect x="83.75" y="150.59" width="7.35" height="4.91" fill="#a8def8"/>
<rect x="91.06" y="150.59" width="14.65" height="4.91" fill="#92d0f1"/>
<rect x="112.96" y="150.59" width="14.65" height="4.91" fill="#92d0f1"/>
<rect x="127.57" y="150.59" width="14.66" height="4.91" fill="#7fbfe7"/>
<rect x="142.17" y="150.59" width="29.26" height="4.91" fill="#92d0f1"/>
<rect x="171.38" y="150.59" width="21.96" height="4.91" fill="#7fbfe7"/>
<rect x="193.29" y="150.59" width="7.35" height="4.91" fill="#6dafdd"/>
<rect x="200.59" y="150.59" width="29.26" height="4.91" fill="#5a9ed4"/>
<rect x="229.80" y="150.59" width="7.35" height="4.91" fill="#488fc6"/>
<rect x="237.11" y="150.59" width="7.35" height="4.91" fill="#4899a6"/>
<rect x="244.41" y="150.59" width="7.35" height="4.91" fill="#49a96d"/>
<rect x="251.71" y="150.59" width="7.35" height="4.91" fill="#49b251"/>
<rect x="259.01" y="150.59" width="7.35" height="4.91" fill="#66bd4a"/>
<rect x="266.31" y="150.59" width="7.35" height="4.91" fill="#8cc84e"/>
<rect x="273.62" y="150.59" width="21.96" height="4.91" fill="#b7d554"/>
<rect x="295.53" y="150.59" width="14.65" height="4.91" fill="#dde058"/>
<rect x="310.13" y="150.59" width="21.96" height="4.91" fill="#fae159"/>
<rect x="332.04" y="150.59" width="7.35" height="4.91" fill="#dde058"/>
<rect x="339.34" y="150.59" width="7.35" height="4.91" fill="#b7d554"/>
<rect x="346.64" y="150.59" width="7.35" height="4.91" fill="#66bd4a"/>
<rect x="353.94" y="150.59" width="7.35" height="4.91" fill="#49a96d"/>
<rect x="361.25" y="150.59" width="7.35" height="4.91" fill="#488fc6"/>
<rect x="368.55" y="150.59" width="7.35" height="4.91" fill="#92d0f1"/>
<rect x="72.80" y="155.45" width="3.70" height="4.91" fill="#d5effc"/>
<rect x="76.45" y="155.45" width="7.35" height="4.91" fill="#bfe7fa"/>
<rect x="83.75" y="155.45" width="7.35" height="4.91" fill="#a8def8"/>
<rect x="91.06" y="155.45" width="14.65" height="4.91" fill="#92d0f1"/>
<rect x="112.96" y="155.45" width="14.65" height="4.91" fill="#a8def8"/>
<rect x="127.57" y="155.45" width="43.86" height="4.91" fill="#92d0f1"/>
<rect x="171.38" y="155.45" width="29.26" height="4.91" fill="#7fbfe7"/>
<rect x="200.59" y="155.45" width="21.96" height="4.91" fill="#6dafdd"/>
<rect x="222.50" y="155.45" width="7.35" height="4.91" fill="#5a9ed4"/>
<rect x="229.80" y="155.45" width="7.35" height="4.91" fill="#488fc6"/>
<rect x="237.11" y="155.45" width="7.35" height="4.91" fill="#4899a6"/>
<rect x="244.41" y="155.45" width="7.35" height="4.91" fill="#49a96d"/>
<rect x="251.71" y="155.45" width="7.35" height="4.91" fill="#49b251"/>
<rect x="259.01" y="155.45" width="7.35" height="4.91" fill="#66bd4a"/>
<rect x="266.31" y="155.45" width="7.35" height="4.91" fill="#8cc84e"/>
<rect x="273.62" y="155.45" width="14.66" height="4.91" fill="#b7d554"/>
<rect x="288.22" y="155.45" width="21.96" height="4.91" fill="#dde058"/>
<rect x="310.13" y="155.45" width="14.66" height="4.91" fill="#fae159"/>
<rect x="324.74" y="155.45" width="14.65" height="4.91" fill="#dde058"/>
<rect x="339.34" y="155.45" width="7.35" height="4.91" fill="#8cc84e"/>
<rect x="346.64" y="155.45" width="7.35" height="4.91" fill="#49b251"/>
<rect x="353.94" y="155.45" width="7.35" height="4.91" fill="#48a18a"/>
<rect x="361.25" y="155.45" width="7.35" height="4.91" fill="#6dafdd"/>
<rect x="368.55" y="155.45" width="7.35" height="4.91" fill="#d5effc"/>
<rect x="72.80" y="160.32" width="3.70" height="4.91" fill="#d5effc"/>
<rect x="76.45" y="160.32" width="7.35" height="4.91" fill="#bfe7fa"/>
<rect x="83.75" y="160.32" width="21.96" height="4.91" fill="#a8def8"/>
<rect x="112.96" y="160.32" width="36.56" height="4.91" fill="#a8def8"/>
<rect x="149.48" y="160.32" width="21.96" height="4.91" fill="#92d0f1"/>
<rect x="171.38" y="160.32" width="29.26" height="4.91" fill="#7fbfe7"/>
<rect x="200.59" y="160.32" width="21.96" height="4.91" fill="#6dafdd"/>
<rect x="222.50" y="160.32" width="7.35" height="4.91" fill="#488fc6"/>
<rect x="229.80" y="160.32" width="14.66" height="4.91" fill="#4899a6"/>
<rect x="244.41" y="160.32" width="7.35" height="4.91" fill="#49a96d"/>
<rect x="251.71" y="160.32" width="7.35" height="4.91" fill="#49b251"/>
<rect x="259.01" y="160.32" width="7.35" height="4.91" fill="#66bd4a"/>
<rect x="266.31" y="160.32" width="7.35" height="4.91" fill="#8cc84e"/>
<rect x="273.62" y="160.32" width="7.35" height="4.91" fill="#b7d554"/>
<rect x="280.92" y="160.32" width="21.96" height="4.91" fill="#dde058"/>
<rect x="302.83" y="160.32" width="14.66" height="4.91" fill="#fae159"/>
<rect x="317.43" y="160.32" width="14.66" height="4.91" fill="#dde058"/>
<rect x="332.04" y="160.32" width="7.35" height="4.91" fill="#b7d554"/>
<rect x="339.34" y="160.32" width="7.35" height="4.91" fill="#66bd4a"/>
<rect x="346.64" y="160.32" width="7.35" height="4.91" fill="#49a96d"/>
<rect x="353.94" y="160.32" width="7.35" height="4.91" fill="#488fc6"/>
<rect x="361.25" y="160.32" width="7.35" height="4.91" fill="#92d0f1"/>
<rect x="72.80" y="165.18" width="3.70" height="4.91" fill="#d5effc"/>
<rect x="76.45" y="165.18" width="29.26" height="4.91" fill="#bfe7fa"/>
<rect x="112.96" y="165.18" width="36.56" height="4.91" fill="#a8def8"/>
<rect x="149.48" y="165.18" width="21.96" height="4.91" fill="#92d0f1"/>
<rect x="171.38" y="165.18" width="29.26" height="4.91" fill="#7fbfe7"/>
<rect x="200.59" y="165.18" width="14.65" height="4.91" fill="#6dafdd"/>
<rect x="215.20" y="165.18" width="7.35" height="4.91" fill="#5a9ed4"/>
<rect x="222.50" y="165.18" width="7.35" height="4.91" fill="#488fc6"/>
<rect x="229.80" y="165.18" width="7.35" height="4.91" fill="#4899a6"/>
<rect x="237.11" y="165.18" width="7.35" height="4.91" fill="#48a18a"/>
<rect x="244.41" y="165.18" width="7.35" height="4.91" fill="#49b251"/>
<rect x="251.71" y="165.18" width="7.35" height="4.91" fill="#66bd4a"/>
<rect x="259.01" y="165.18" width="14.66" height="4.91" fill="#8cc84e"/>
<rect x="273.62" y="165.18" width="7.35" height="4.91" fill="#b7d554"/>
<rect x="280.92" y="165.18" width="21.96" height="4.91" fill="#dde058"/>
<rect x="302.83" y="165.18" width="14.66" height="4.91" fill="#fae159"/>
<rect x="317.43" y="165.18" width="7.35" height="4.91" fill="#dde058"/>
<rect x="324.74" y="165.18" width="7.35" height="4.91" fill="#b7d554"/>
<rect x="332.04" y="165.18" width="7.35" height="4.91" fill="#8cc84e"/>
<rect x="339.34" y="165.18" width="7.35" height="4.91" fill="#49b251"/>
<rect x="346.64" y="165.18" width="7.35" height="4.91" fill="#48a18a"/>
<rect x="353.94" y="165.18" width="7.35" height="4.91" fill="#5a9ed4"/>
<rect x="361.25" y="165.18" width="7.35" height="4.91" fill="#a8def8"/>
<rect x="72.80" y="170.04" width="3.70" height="4.91" fill="#d5effc"/>
<rect x="76.45" y="170.04" width="29.26" height="4.91" fill="#bfe7fa"/>
<rect x="112.96" y="170.04" width="29.26" height="4.91" fill="#a8def8"/>
<rect x="142.17" y="170.04" width="21.96" height="4.91" fill="#92d0f1"/>
<rect x="164.08" y="170.04" width="36.56" height="4.91" fill="#7fbfe7"/>
<rect x="200.59" y="170.04" width="7.35" height="4.91" fill="#6dafdd"/>
<rect x="207.89" y="170.04" width="14.66" height="4.91" fill="#5a9ed4"/>
<rect x="222.50" y="170.04" width="7.35" height="4.91" fill="#488fc6"/>
<rect x="229.80" y="170.04" width="7.35" height="4.91" fill="#4899a6"/>
<rect x="237.11" y="170.04" width="7.35" height="4.91" fill="#48a18a"/>
<rect x="244.41" y="170.04" width="7.35" height="4.91" fill="#49b251"/>
<rect x="251.71" y="170.04" width="7.35" height="4.91" fill="#66bd4a"/>
<rect x="259.01" y="170.04" width="7.35" height="4.91" fill="#8cc84e"/>
<rect x="266.31" y="170.04" width="7.35" height="4.91" fill="#b7d554"/>
<rect x="273.62" y="170.04" width="21.96" height="4.91" fill="#dde058"/>
<rect x="295.53" y="170.04" width="21.96" height="4.91" fill="#fae159"/>
<rect x="317.43" y="170.04" width="7.35" height="4.91" fill="#dde058"/>
<rect x="324.74" y="170.04" width="7.35" height="4.91" fill="#b7d554"/>
<rect x="332.04" y="170.04" width="7.35" height="4.91" fill="#8cc84e"/>
<rect x="339.34" y="170.04" width="7.35" height="4.91" fill="#49b251"/>
<rect x="346.64" y="170.04" width="7.35" height="4.91" fill="#4899a6"/>
<rect x="353.94" y="170.04" width="7.35" height="4.91" fill="#6dafdd"/>
<rect x="361.25" y="170.04" width="7.35" height="4.91" fill="#d5effc"/>
<rect x="72.80" y="174.90" width="3.70" height="4.91" fill="#d5effc"/>
<rect x="76.45" y="174.90" width="29.26" height="4.91" fill="#bfe7fa"/>
<rect x="112.96" y="174.90" width="21.96" height="4.91" fill="#a8def8"/>
<rect x="134.87" y="174.90" width="43.86" height="4.91" fill="#92d0f1"/>
<rect x="178.69" y="174.90" width="21.96" height="4.91" fill="#7fbfe7"/>
<rect x="200.59" y="174.90" width="7.35" height="4.91" fill="#6dafdd"/>
<rect x="207.89" y="174.90" width="7.35" height="4.91" fill="#5a9ed4"/>
<rect x="215.20" y="174.90" width="7.35" height="4.91" fill="#488fc6"/>
<rect x="222.50" y="174.90" width="7.35" height="4.91" fill="#4899a6"/>
<rect x="229.80" y="174.90" width="14.66" height="4.91" fill="#48a18a"/>
<rect x="244.41" y="174.90" width="7.35" height="4.91" fill="#49b251"/>
<rect x="251.71" y="174.90" width="7.35" height="4.91" fill="#66bd4a"/>
<rect x="259.01" y="174.90" width="7.35" height="4.91" fill="#8cc84e"/>
<rect x="266.31" y="174.90" width="7.35" height="4.91" fill="#b7d554"/>
<rect x="273.62" y="174.90" width="21.96" height="4.91" fill="#dde058"/>
<rect x="295.53" y="174.90" width="21.96" height="4.91" fill="#fae159"/>
<rect x="317.43" y="174.90" width="7.35" height="4.91" fill="#dde058"/>
<rect x="324.74" y="174.90" width="7.35" height="4.91" fill="#b7d554"/>
<rect x="332.04" y="174.90" width="7.35" height="4.91" fill="#66bd4a"/>
<rect x="339.34" y="174.90" width="7.35" height="4.91" fill="#49a96d"/>
<rect x="346.64" y="174.90" width="7.35" height="4.91" fill="#4899a6"/>
<rect x="353.94" y="174.90" width="7.35" height="4.91" fill="#7fbfe7"/>
<rect x="361.25" y="174.90" width="7.35" height="4.91" fill="#eaf7fd"/>
<rect x="72.80" y="179.76" width="3.70" height="4.91" fill="#d5effc"/>
<rect x="76.45" y="179.76" width="29.26" height="4.91" fill="#bfe7fa"/>
<rect x="112.96" y="179.76" width="58.47" height="4.91" fill="#92d0f1"/>
<rect x="171.38" y="179.76" width="29.26" height="4.91" fill="#7fbfe7"/>
<rect x="200.59" y="179.76" width="14.65" height="4.91" fill="#5a9ed4"/>
<rect x="215.20" y="179.76" width="7.35" height="4.91" fill="#488fc6"/>
<rect x="222.50" y="179.76" width="7.35" height="4.91" fill="#4899a6"/>
<rect x="229.80" y="179.76" width="14.66" height="4.91" fill="#48a18a"/>
<rect x="244.41" y="179.76" width="7.35" height="4.91" fill="#66bd4a"/>
<rect x="251.71" y="179.76" width="7.35" height="4.91" fill="#8cc84e"/>
<rect x="259.01" y="179.76" width="14.66" height="4.91" fill="#b7d554"/>
<rect x="273.62" y="179.76" width="14.66" height="4.91" fill="#dde058"/>
<rect x="288.22" y="179.76" width="29.26" height="4.91" fill="#fae159"/>
<rect x="317.43" y="179.76" width="7.35" height="4.91" fill="#dde058"/>
<rect x="324.74" y="179.76" width="7.35" height="4.91" fill="#b7d554"/>
<rect x="332.04" y="179.76" width="7.35" height="4.91" fill="#66bd4a"/>
<rect x="339.34" y="179.76" width="7.35" height="4.91" fill="#49a96d"/>
<rect x="346.64" y="179.76" width="7.35" height="4.91" fill="#488fc6"/>
<rect x="353.94" y="179.76" width="7.35" height="4.91" fill="#7fbfe7"/>
<rect x="361.25" y="179.76" width="7.35" height="4.91" fill="#eaf7fd"/>
<rect x="72.80" y="184.62" width="3.70" height="4.91" fill="#eaf7fd"/>
<rect x="76.45" y="184.62" width="7.35" height="4.91" fill="#d5effc"/>
<rect x="83.75" y="184.62" width="21.96" height="4.91" fill="#bfe7fa"/>
<rect x="112.96" y="184.62" width="21.96" height="4.91" fill="#92d0f1"/>
<rect x="134.87" y="184.62" width="7.35" height="4.91" fill="#7fbfe7"/>
<rect x="142.17" y="184.62" width="29.26" height="4.91" fill="#92d0f1"/>
<rect x="171.38" y="184.62" width="21.96" height="4.91" fill="#7fbfe7"/>
<rect x="193.29" y="184.62" width="7.35" height="4.91" fill="#6dafdd"/>
<rect x="200.59" y="184.62" width="7.35" height="4.91" fill="#5a9ed4"/>
<rect x="207.89" y="184.62" width="7.35" height="4.91" fill="#488fc6"/>
<rect x="215.20" y="184.62" width="7.35" height="4.91" fill="#4899a6"/>
<rect x="222.50" y="184.62" width="7.35" height="4.91" fill="#48a18a"/>
<rect x="229.80" y="184.62" width="7.35" height="4.91" fill="#49a96d"/>
<rect x="237.11" y="184.62" width="7.35" height="4.91" fill="#49b251"/>
<rect x="244.41" y="184.62" width="7.35" height="4.91" fill="#66bd4a"/>
<rect x="251.71" y="184.62" width="7.35" height="4.91" fill="#8cc84e"/>
<rect x="259.01" y="184.62" width="7.35" height="4.91" fill="#b7d554"/>
<rect x="266.31" y="184.62" width="14.66" height="4.91" fill="#dde058"/>
<rect x="280.92" y="184.62" width="29.26" height="4.91" fill="#fae159"/>
<rect x="310.13" y="184.62" width="7.35" height="4.91" fill="#dde058"/>
<rect x="317.43" y="184.62" width="7.35" height="4.91" fill="#b7d554"/>
<rect x="324.74" y="184.62" width="7.35" height="4.91" fill="#8cc84e"/>
<rect x="332.04" y="184.62" width="7.35" height="4.91" fill="#49b251"/>
<rect x="339.34" y="184.62" width="7.35" height="4.91" fill="#4899a6"/>
<rect x="346.64" y="184.62" width="7.35" height="4.91" fill="#5a9ed4"/>
<rect x="353.94" y="184.62" width="7.35" height="4.91" fill="#bfe7fa"/>
<rect x="76.45" y="189.48" width="7.35" height="4.91" fill="#d5effc"/>
<rect x="83.75" y="189.48" width="7.35" height="4.91" fill="#bfe7fa"/>
<rect x="91.06" y="189.48" width="14.65" height="4.91" fill="#a8def8"/>
<rect x="112.96" y="189.48" width="14.65" height="4.91" fill="#92d0f1"/>
<rect x="127.57" y="189.48" width="14.66" height="4.91" fill="#7fbfe7"/>
<rect x="142.17" y="189.48" width="29.26" height="4.91" fill="#92d0f1"/>
<rect x="171.38" y="189.48" width="21.96" height="4.91" fill="#7fbfe7"/>
<rect x="193.29" y="189.48" width="7.35" height="4.91" fill="#6dafdd"/>
<rect x="200.59" y="189.48" width="7.35" height="4.91" fill="#5a9ed4"/>
<rect x="207.89" y="189.48" width="7.35" height="4.91" fill="#488fc6"/>
<rect x="215.20" y="189.48" width="7.35" height="4.91" fill="#4899a6"/>
<rect x="222.50" y="189.48" width="7.35" height="4.91" fill="#48a18a"/>
<rect x="229.80" y="189.48" width="7.35" height="4.91" fill="#49a96d"/>
<rect x="237.11" y="189.48" width="7.35" height="4.91" fill="#49b251"/>
<rect x="244.41" y="189.48" width="7.35" height="4.91" fill="#66bd4a"/>
<rect x="251.71" y="189.48" width="7.35" height="4.91" fill="#8cc84e"/>
<rect x="259.01" y="189.48" width="7.35" height="4.91" fill="#b7d554"/>
<rect x="266.31" y="189.48" width="14.66" height="4.91" fill="#dde058"/>
<rect x="280.92" y="189.48" width="29.26" height="4.91" fill="#fae159"/>
<rect x="310.13" y="189.48" width="7.35" height="4.91" fill="#dde058"/>
<rect x="317.43" y="189.48" width="7.35" height="4.91" fill="#b7d554"/>
<rect x="324.74" y="189.48" width="7.35" height="4.91" fill="#66bd4a"/>
<rect x="332.04" y="189.48" width="7.35" height="4.91" fill="#49a96d"/>
<rect x="339.34" y="189.48" width="7.35" height="4.91" fill="#488fc6"/>
<rect x="346.64" y="189.48" width="7.35" height="4.91" fill="#7fbfe7"/>
<rect x="353.94" y="189.48" width="7.35" height="4.91" fill="#eaf7fd"/>
<rect x="76.45" y="194.34" width="7.35" height="4.91" fill="#eaf7fd"/>
<rect x="83.75" y="194.34" width="7.35" height="4.91" fill="#bfe7fa"/>
<rect x="91.06" y="194.34" width="7.35" height="4.91" fill="#a8def8"/>
<rect x="98.36" y="194.34" width="7.35" height="4.91" fill="#92d0f1"/>
<rect x="112.96" y="194.34" width="14.65" height="4.91" fill="#92d0f1"/>
<rect x="127.57" y="194.34" width="14.66" height="4.91" fill="#7fbfe7"/>
<rect x="142.17" y="194.34" width="36.56" height="4.91" fill="#92d0f1"/>
<rect x="178.69" y="194.34" width="14.66" height="4.91" fill="#7fbfe7"/>
<rect x="193.29" y="194.34" width="14.65" height="4.91" fill="#6dafdd"/>
<rect x="207.89" y="194.34" width="7.35" height="4.91" fill="#488fc6"/>
<rect x="215.20" y="194.34" width="7.35" height="4.91" fill="#4899a6"/>
<rect x="222.50" y="194.34" width="7.35" height="4.91" fill="#48a18a"/>
<rect x="229.80" y="194.34" width="14.66" height="4.91" fill="#49b251"/>
<rect x="244.41" y="194.34" width="7.35" height="4.91" fill="#66bd4a"/>
<rect x="251.71" y="194.34" width="7.35" height="4.91" fill="#8cc84e"/>
<rect x="259.01" y="194.34" width="14.66" height="4.91" fill="#dde058"/>
<rect x="273.62" y="194.34" width="36.56" height="4.91" fill="#fae159"/>
<rect x="310.13" y="194.34" width="7.35" height="4.91" fill="#dde058"/>
<rect x="317.43" y="194.34" width="7.35" height="4.91" fill="#b7d554"/>
<rect x="324.74" y="194.34" width="7.35" height="4.91" fill="#66bd4a"/>
<rect x="332.04" y="194.34" width="7.35" height="4.91" fill="#4899a6"/>
<rect x="339.34" y="194.34" width="7.35" height="4.91" fill="#5a9ed4"/>
<rect x="346.64" y="194.34" width="7.35" height="4.91" fill="#92d0f1"/>
<rect x="76.45" y="199.20" width="7.35" height="4.91" fill="#eaf7fd"/>
<rect x="83.75" y="199.20" width="7.35" height="4.91" fill="#bfe7fa"/>
<rect x="91.06" y="199.20" width="14.65" height="4.91" fill="#92d0f1"/>
<rect x="112.96" y="199.20" width="7.35" height="4.91" fill="#92d0f1"/>
<rect x="120.27" y="199.20" width="21.96" height="4.91" fill="#7fbfe7"/>
<rect x="142.17" y="199.20" width="43.86" height="4.91" fill="#92d0f1"/>
<rect x="185.99" y="199.20" width="14.65" height="4.91" fill="#7fbfe7"/>
<rect x="200.59" y="199.20" width="7.35" height="4.91" fill="#6dafdd"/>
<rect x="207.89" y="199.20" width="7.35" height="4.91" fill="#488fc6"/>
<rect x="215.20" y="199.20" width="7.35" height="4.91" fill="#4899a6"/>
<rect x="222.50" y="199.20" width="7.35" height="4.91" fill="#49a96d"/>
<rect x="229.80" y="199.20" width="7.35" height="4.91" fill="#49b251"/>
<rect x="237.11" y="199.20" width="7.35" height="4.91" fill="#66bd4a"/>
<rect x="244.41" y="199.20" width="7.35" height="4.91" fill="#8cc84e"/>
<rect x="251.71" y="199.20" width="7.35" height="4.91" fill="#b7d554"/>
<rect x="259.01" y="199.20" width="14.66" height="4.91" fill="#dde058"/>
<rect x="273.62" y="199.20" width="36.56" height="4.91" fill="#fae159"/>
<rect x="310.13" y="199.20" width="7.35" height="4.91" fill="#dde058"/>
<rect x="317.43" y="199.20" width="7.35" height="4.91" fill="#8cc84e"/>
<rect x="324.74" y="199.20" width="7.35" height="4.91" fill="#49b251"/>
<rect x="332.04" y="199.20" width="7.35" height="4.91" fill="#488fc6"/>
<rect x="339.34" y="199.20" width="7.35" height="4.91" fill="#6dafdd"/>
<rect x="346.64" y="199.20" width="7.35" height="4.91" fill="#bfe7fa"/>
<rect x="76.45" y="204.06" width="7.35" height="4.91" fill="#d5effc"/>
<rect x="83.75" y="204.06" width="7.35" height="4.91" fill="#bfe7fa"/>
<rect x="91.06" y="204.06" width="14.65" height="4.91" fill="#a8def8"/>
<rect x="112.96" y="204.06" width="80.38" height="4.91" fill="#92d0f1"/>
<rect x="193.29" y="204.06" width="7.35" height="4.91" fill="#7fbfe7"/>
<rect x="200.59" y="204.06" width="7.35" height="4.91" fill="#5a9ed4"/>
<rect x="207.89" y="204.06" width="7.35" height="4.91" fill="#488fc6"/>
<rect x="215.20" y="204.06" width="7.35" height="4.91" fill="#4899a6"/>
<rect x="222.50" y="204.06" width="7.35" height="4.91" fill="#49b251"/>
<rect x="229.80" y="204.06" width="7.35" height="4.91" fill="#66bd4a"/>
<rect x="237.11" y="204.06" width="7.35" height="4.91" fill="#8cc84e"/>
<rect x="244.41" y="204.06" width="14.65" height="4.91" fill="#b7d554"/>
<rect x="259.01" y="204.06" width="7.35" height="4.91" fill="#dde058"/>
<rect x="266.31" y="204.06" width="43.86" height="4.91" fill="#fae159"/>
<rect x="310.13" y="204.06" width="7.35" height="4.91" fill="#b7d554"/>
<rect x="317.43" y="204.06" width="7.35" height="4.91" fill="#66bd4a"/>
<rect x="324.74" y="204.06" width="7.35" height="4.91" fill="#49a96d"/>
<rect x="332.04" y="204.06" width="7.35" height="4.91" fill="#5a9ed4"/>
<rect x="339.34" y="204.06" width="7.35" height="4.91" fill="#a8def8"/>
<rect x="346.64" y="204.06" width="7.35" height="4.91" fill="#eaf7fd"/>
<rect x="72.80" y="208.93" width="3.70" height="4.91" fill="#eaf7fd"/>
<rect x="76.45" y="208.93" width="7.35" height="4.91" fill="#d5effc"/>
<rect x="83.75" y="208.93" width="7.35" height="4.91" fill="#bfe7fa"/>
<rect x="91.06" y="208.93" width="14.65" height="4.91" fill="#a8def8"/>
<rect x="112.96" y="208.93" width="73.08" height="4.91" fill="#92d0f1"/>
<rect x="185.99" y="208.93" width="7.35" height="4.91" fill="#a8def8"/>
<rect x="193.29" y="208.93" width="7.35" height="4.91" fill="#92d0f1"/>
<rect x="200.59" y="208.93" width="7.35" height="4.91" fill="#7fbfe7"/>
<rect x="207.89" y="208.93" width="7.35" height="4.91" fill="#488fc6"/>
<rect x="215.20" y="208.93" width="7.35" height="4.91" fill="#4899a6"/>
<rect x="222.50" y="208.93" width="7.35" height="4.91" fill="#49b251"/>
<rect x="229.80" y="208.93" width="7.35" height="4.91" fill="#66bd4a"/>
<rect x="237.11" y="208.93" width="7.35" height="4.91" fill="#8cc84e"/>
<rect x="244.41" y="208.93" width="7.35" height="4.91" fill="#b7d554"/>
<rect x="251.71" y="208.93" width="14.66" height="4.91" fill="#dde058"/>
<rect x="266.31" y="208.93" width="36.56" height="4.91" fill="#fae159"/>
<rect x="302.83" y="208.93" width="7.35" height="4.91" fill="#dde058"/>
<rect x="310.13" y="208.93" width="7.35" height="4.91" fill="#b7d554"/>
<rect x="317.43" y="208.93" width="7.35" height="4.91" fill="#49b251"/>
<rect x="324.74" y="208.93" width="7.35" height="4.91" fill="#48a18a"/>
<rect x="332.04" y="208.93" width="7.35" height="4.91" fill="#6dafdd"/>
<rect x="339.34" y="208.93" width="7.35" height="4.91" fill="#d5effc"/>
<rect x="72.80" y="213.79" width="3.70" height="4.91" fill="#eaf7fd"/>
<rect x="76.45" y="213.79" width="7.35" height="4.91" fill="#d5effc"/>
<rect x="83.75" y="213.79" width="7.35" height="4.91" fill="#bfe7fa"/>
<rect x="91.06" y="213.79" width="14.65" height="4.91" fill="#a8def8"/>
<rect x="112.96" y="213.79" width="29.26" height="4.91" fill="#a8def8"/>
<rect x="142.17" y="213.79" width="29.26" height="4.91" fill="#92d0f1"/>
<rect x="171.38" y="213.79" width="29.26" height="4.91" fill="#a8def8"/>
<rect x="200.59" y="213.79" width="7.35" height="4.91" fill="#7fbfe7"/>
<rect x="207.89" y="213.79" width="7.35" height="4.91" fill="#5a9ed4"/>
<rect x="215.20" y="213.79" width="7.35" height="4.91" fill="#4899a6"/>
<rect x="222.50" y="213.79" width="7.35" height="4.91" fill="#49b251"/>
<rect x="229.80" y="213.79" width="7.35" height="4.91" fill="#66bd4a"/>
<rect x="237.11" y="213.79" width="7.35" height="4.91" fill="#8cc84e"/>
<rect x="244.41" y="213.79" width="7.35" height="4.91" fill="#b7d554"/>
<rect x="251.71" y="213.79" width="14.66" height="4.91" fill="#dde058"/>
<rect x="266.31" y="213.79" width="36.56" height="4.91" fill="#fae159"/>
<rect x="302.83" y="213.79" width="7.35" height="4.91" fill="#dde058"/>
<rect x="310.13" y="213.79" width="7.35" height="4.91" fill="#8cc84e"/>
<rect x="317.43" y="213.79" width="7.35" height="4.91" fill="#49b251"/>
<rect x="324.74" y="213.79" width="7.35" height="4.91" fill="#4899a6"/>
<rect x="332.04" y="213.79" width="7.35" height="4.91" fill="#7fbfe7"/>
<rect x="339.34" y="213.79" width="7.35" height="4.91" fill="#eaf7fd"/>
<rect x="72.80" y="218.65" width="3.70" height="4.91" fill="#eaf7fd"/>
<rect x="76.45" y="218.65" width="7.35" height="4.91" fill="#d5effc"/>
<rect x="83.75" y="218.65" width="21.96" height="4.91" fill="#bfe7fa"/>
<rect x="112.96" y="218.65" width="29.26" height="4.91" fill="#a8def8"/>
<rect x="142.17" y="218.65" width="7.35" height="4.91" fill="#92d0f1"/>
<rect x="149.48" y="218.65" width="7.35" height="4.91" fill="#a8def8"/>
<rect x="156.78" y="218.65" width="7.35" height="4.91" fill="#92d0f1"/>
<rect x="164.08" y="218.65" width="36.56" height="4.91" fill="#a8def8"/>
<rect x="200.59" y="218.65" width="7.35" height="4.91" fill="#7fbfe7"/>
<rect x="207.89" y="218.65" width="7.35" height="4.91" fill="#5a9ed4"/>
<rect x="215.20" y="218.65" width="7.35" height="4.91" fill="#48a18a"/>
<rect x="222.50" y="218.65" width="7.35" height="4.91" fill="#49b251"/>
<rect x="229.80" y="218.65" width="7.35" height="4.91" fill="#66bd4a"/>
<rect x="237.11" y="218.65" width="7.35" height="4.91" fill="#8cc84e"/>
<rect x="244.41" y="218.65" width="7.35" height="4.91" fill="#b7d554"/>
<rect x="251.71" y="218.65" width="14.66" height="4.91" fill="#dde058"/>
<rect x="266.31" y="218.65" width="29.26" height="4.91" fill="#fae159"/>
<rect x="295.53" y="218.65" width="14.65" height="4.91" fill="#dde058"/>
<rect x="310.13" y="218.65" width="7.35" height="4.91" fill="#8cc84e"/>
<rect x="317.43" y="218.65" width="7.35" height="4.91" fill="#49a96d"/>
<rect x="324.74" y="218.65" width="7.35" height="4.91" fill="#5a9ed4"/>
<rect x="332.04" y="218.65" width="7.35" height="4.91" fill="#a8def8"/>
<rect x="72.80" y="223.51" width="3.70" height="4.91" fill="#eaf7fd"/>
<rect x="76.45" y="223.51" width="7.35" height="4.91" fill="#bfe7fa"/>
<rect x="83.75" y="223.51" width="14.66" height="4.91" fill="#d5effc"/>
<rect x="98.36" y="223.51" width="7.35" height="4.91" fill="#bfe7fa"/>
<rect x="112.96" y="223.51" width="29.26" height="4.91" fill="#bfe7fa"/>
<rect x="142.17" y="223.51" width="43.86" height="4.91" fill="#a8def8"/>
<rect x="185.99" y="223.51" width="7.35" height="4.91" fill="#bfe7fa"/>
<rect x="193.29" y="223.51" width="7.35" height="4.91" fill="#92d0f1"/>
<rect x="200.59" y="223.51" width="7.35" height="4.91" fill="#6dafdd"/>
<rect x="207.89" y="223.51" width="7.35" height="4.91" fill="#5a9ed4"/>
<rect x="215.20" y="223.51" width="7.35" height="4.91" fill="#48a18a"/>
<rect x="222.50" y="223.51" width="7.35" height="4.91" fill="#49b251"/>
<rect x="229.80" y="223.51" width="7.35" height="4.91" fill="#66bd4a"/>
<rect x="237.11" y="223.51" width="14.65" height="4.91" fill="#b7d554"/>
<rect x="251.71" y="223.51" width="7.35" height="4.91" fill="#dde058"/>
<rect x="259.01" y="223.51" width="36.56" height="4.91" fill="#fae159"/>
<rect x="295.53" y="223.51" width="7.35" height="4.91" fill="#dde058"/>
<rect x="302.83" y="223.51" width="7.35" height="4.91" fill="#b7d554"/>
<rect x="310.13" y="223.51" width="7.35" height="4.91" fill="#66bd4a"/>
<rect x="317.43" y="223.51" width="7.35" height="4.91" fill="#48a18a"/>
<rect x="324.74" y="223.51" width="7.35" height="4.91" fill="#6dafdd"/>
<rect x="332.04" y="223.51" width="7.35" height="4.91" fill="#d5effc"/>
<rect x="72.80" y="228.37" width="3.70" height="4.91" fill="#eaf7fd"/>
<rect x="76.45" y="228.37" width="7.35" height="4.91" fill="#bfe7fa"/>
<rect x="83.75" y="228.37" width="21.96" height="4.91" fill="#d5effc"/>
<rect x="112.96" y="228.37" width="29.26" height="4.91" fill="#bfe7fa"/>
<rect x="142.17" y="228.37" width="36.56" height="4.91" fill="#a8def8"/>
<rect x="178.69" y="228.37" width="14.66" height="4.91" fill="#bfe7fa"/>
<rect x="193.29" y="228.37" width="7.35" height="4.91" fill="#92d0f1"/>
<rect x="200.59" y="228.37" width="7.35" height="4.91" fill="#6dafdd"/>
<rect x="207.89" y="228.37" width="7.35" height="4.91" fill="#488fc6"/>
<rect x="215.20" y="228.37" width="7.35" height="4.91" fill="#48a18a"/>
<rect x="222.50" y="228.37" width="7.35" height="4.91" fill="#66bd4a"/>
<rect x="229.80" y="228.37" width="7.35" height="4.91" fill="#8cc84e"/>
<rect x="237.11" y="228.37" width="7.35" height="4.91" fill="#b7d554"/>
<rect x="244.41" y="228.37" width="14.65" height="4.91" fill="#dde058"/>
<rect x="259.01" y="228.37" width="29.26" height="4.91" fill="#fae159"/>
<rect x="288.22" y="228.37" width="7.35" height="4.91" fill="#dde058"/>
<rect x="295.53" y="228.37" width="7.35" height="4.91" fill="#b7d554"/>
<rect x="302.83" y="228.37" width="7.35" height="4.91" fill="#8cc84e"/>
<rect x="310.13" y="228.37" width="7.35" height="4.91" fill="#49b251"/>
<rect x="317.43" y="228.37" width="7.35" height="4.91" fill="#488fc6"/>
<rect x="324.74" y="228.37" width="7.35" height="4.91" fill="#92d0f1"/>
<rect x="332.04" y="228.37" width="7.35" height="4.91" fill="#eaf7fd"/>
<rect x="76.45" y="233.23" width="14.66" height="4.91" fill="#d5effc"/>
<rect x="91.06" y="233.23" width="7.35" height="4.91" fill="#eaf7fd"/>
<rect x="98.36" y="233.23" width="7.35" height="4.91" fill="#d5effc"/>
<rect x="112.96" y="233.23" width="14.65" height="4.91" fill="#bfe7fa"/>
<rect x="127.57" y="233.23" width="36.56" height="4.91" fill="#a8def8"/>
<rect x="164.08" y="233.23" width="21.96" height="4.91" fill="#bfe7fa"/>
<rect x="185.99" y="233.23" width="7.35" height="4.91" fill="#a8def8"/>
<rect x="193.29" y="233.23" width="7.35" height="4.91" fill="#7fbfe7"/>
<rect x="200.59" y="233.23" width="7.35" height="4.91" fill="#5a9ed4"/>
<rect x="207.89" y="233.23" width="7.35" height="4.91" fill="#4899a6"/>
<rect x="215.20" y="233.23" width="7.35" height="4.91" fill="#48a18a"/>
<rect x="222.50" y="233.23" width="7.35" height="4.91" fill="#66bd4a"/>
<rect x="229.80" y="233.23" width="7.35" height="4.91" fill="#8cc84e"/>
<rect x="237.11" y="233.23" width="7.35" height="4.91" fill="#b7d554"/>
<rect x="244.41" y="233.23" width="7.35" height="4.91" fill="#dde058"/>
<rect x="251.71" y="233.23" width="36.56" height="4.91" fill="#fae159"/>
<rect x="288.22" y="233.23" width="7.35" height="4.91" fill="#dde058"/>
<rect x="295.53" y="233.23" width="7.35" height="4.91" fill="#b7d554"/>
<rect x="302.83" y="233.23" width="7.35" height="4.91" fill="#66bd4a"/>
<rect x="310.13" y="233.23" width="7.35" height="4.91" fill="#49a96d"/>
<rect x="317.43" y="233.23" width="7.35" height="4.91" fill="#5a9ed4"/>
<rect x="324.74" y="233.23" width="7.35" height="4.91" fill="#bfe7fa"/>
<rect x="76.45" y="238.09" width="7.35" height="4.91" fill="#d5effc"/>
<rect x="83.75" y="238.09" width="14.66" height="4.91" fill="#eaf7fd"/>
<rect x="98.36" y="238.09" width="7.35" height="4.91" fill="#d5effc"/>
<rect x="112.96" y="238.09" width="43.86" height="4.91" fill="#a8def8"/>
<rect x="156.78" y="238.09" width="14.65" height="4.91" fill="#d5effc"/>
<rect x="171.38" y="238.09" width="14.66" height="4.91" fill="#bfe7fa"/>
<rect x="185.99" y="238.09" width="7.35" height="4.91" fill="#92d0f1"/>
<rect x="193.29" y="238.09" width="7.35" height="4.91" fill="#6dafdd"/>
<rect x="200.59" y="238.09" width="7.35" height="4.91" fill="#488fc6"/>
<rect x="207.89" y="238.09" width="7.35" height="4.91" fill="#48a18a"/>
<rect x="215.20" y="238.09" width="7.35" height="4.91" fill="#49a96d"/>
<rect x="222.50" y="238.09" width="7.35" height="4.91" fill="#66bd4a"/>
<rect x="229.80" y="238.09" width="7.35" height="4.91" fill="#b7d554"/>
<rect x="237.11" y="238.09" width="7.35" height="4.91" fill="#dde058"/>
<rect x="244.41" y="238.09" width="36.56" height="4.91" fill="#fae159"/>
<rect x="280.92" y="238.09" width="7.35" height="4.91" fill="#dde058"/>
<rect x="288.22" y="238.09" width="7.35" height="4.91" fill="#b7d554"/>
<rect x="295.53" y="238.09" width="7.35" height="4.91" fill="#8cc84e"/>
<rect x="302.83" y="238.09" width="7.35" height="4.91" fill="#49b251"/>
<rect x="310.13" y="238.09" width="7.35" height="4.91" fill="#4899a6"/>
<rect x="317.43" y="238.09" width="7.35" height="4.91" fill="#92d0f1"/>
<rect x="91.06" y="242.95" width="7.35" height="4.91" fill="#eaf7fd"/>
<rect x="98.36" y="242.95" width="7.35" height="4.91" fill="#d5effc"/>
<rect x="112.96" y="242.95" width="14.65" height="4.91" fill="#a8def8"/>
<rect x="127.57" y="242.95" width="7.35" height="4.91" fill="#92d0f1"/>
<rect x="134.87" y="242.95" width="7.35" height="4.91" fill="#a8def8"/>
<rect x="142.17" y="242.95" width="7.35" height="4.91" fill="#bfe7fa"/>
<rect x="149.48" y="242.95" width="7.35" height="4.91" fill="#d5effc"/>
<rect x="156.78" y="242.95" width="7.35" height="4.91" fill="#eaf7fd"/>
<rect x="164.08" y="242.95" width="7.35" height="4.91" fill="#bfe7fa"/>
<rect x="171.38" y="242.95" width="7.35" height="4.91" fill="#a8def8"/>
<rect x="178.69" y="242.95" width="7.35" height="4.91" fill="#92d0f1"/>
<rect x="185.99" y="242.95" width="7.35" height="4.91" fill="#6dafdd"/>
<rect x="193.29" y="242.95" width="7.35" height="4.91" fill="#488fc6"/>
<rect x="200.59" y="242.95" width="7.35" height="4.91" fill="#4899a6"/>
<rect x="207.89" y="242.95" width="7.35" height="4.91" fill="#49a96d"/>
<rect x="215.20" y="242.95" width="7.35" height="4.91" fill="#49b251"/>
<rect x="222.50" y="242.95" width="7.35" height="4.91" fill="#8cc84e"/>
<rect x="229.80" y="242.95" width="7.35" height="4.91" fill="#b7d554"/>
<rect x="237.11" y="242.95" width="7.35" height="4.91" fill="#dde058"/>
<rect x="244.41" y="242.95" width="36.56" height="4.91" fill="#fae159"/>
<rect x="280.92" y="242.95" width="7.35" height="4.91" fill="#dde058"/>
<rect x="288.22" y="242.95" width="7.35" height="4.91" fill="#8cc84e"/>
<rect x="295.53" y="242.95" width="7.35" height="4.91" fill="#66bd4a"/>
<rect x="302.83" y="242.95" width="7.35" height="4.91" fill="#48a18a"/>
<rect x="310.13" y="242.95" width="7.35" height="4.91" fill="#5a9ed4"/>
<rect x="317.43" y="242.95" width="7.35" height="4.91" fill="#eaf7fd"/>
<rect x="91.06" y="247.81" width="7.35" height="4.91" fill="#eaf7fd"/>
<rect x="98.36" y="247.81" width="7.35" height="4.91" fill="#d5effc"/>
<rect x="112.96" y="247.81" width="14.65" height="4.91" fill="#bfe7fa"/>
<rect x="127.57" y="247.81" width="7.35" height="4.91" fill="#a8def8"/>
<rect x="134.87" y="247.81" width="7.35" height="4.91" fill="#bfe7fa"/>
<rect x="142.17" y="247.81" width="7.35" height="4.91" fill="#d5effc"/>
<rect x="149.48" y="247.81" width="7.35" height="4.91" fill="#eaf7fd"/>
<rect x="164.08" y="247.81" width="7.35" height="4.91" fill="#bfe7fa"/>
<rect x="171.38" y="247.81" width="7.35" height="4.91" fill="#a8def8"/>
<rect x="178.69" y="247.81" width="7.35" height="4.91" fill="#92d0f1"/>
<rect x="185.99" y="247.81" width="7.35" height="4.91" fill="#5a9ed4"/>
<rect x="193.29" y="247.81" width="7.35" height="4.91" fill="#488fc6"/>
<rect x="200.59" y="247.81" width="7.35" height="4.91" fill="#4899a6"/>
<rect x="207.89" y="247.81" width="7.35" height="4.91" fill="#49a96d"/>
<rect x="215.20" y="247.81" width="7.35" height="4.91" fill="#66bd4a"/>
<rect x="222.50" y="247.81" width="7.35" height="4.91" fill="#b7d554"/>
<rect x="229.80" y="247.81" width="7.35" height="4.91" fill="#dde058"/>
<rect x="237.11" y="247.81" width="36.56" height="4.91" fill="#fae159"/>
<rect x="273.62" y="247.81" width="7.35" height="4.91" fill="#dde058"/>
<rect x="280.92" y="247.81" width="7.35" height="4.91" fill="#b7d554"/>
<rect x="288.22" y="247.81" width="7.35" height="4.91" fill="#8cc84e"/>
<rect x="295.53" y="247.81" width="7.35" height="4.91" fill="#49b251"/>
<rect x="302.83" y="247.81" width="7.35" height="4.91" fill="#4899a6"/>
<rect x="310.13" y="247.81" width="7.35" height="4.91" fill="#a8def8"/>
<rect x="98.36" y="252.67" width="7.35" height="4.91" fill="#d5effc"/>
<rect x="112.96" y="252.67" width="14.65" height="4.91" fill="#d5effc"/>
<rect x="127.57" y="252.67" width="7.35" height="4.91" fill="#bfe7fa"/>
<rect x="134.87" y="252.67" width="7.35" height="4.91" fill="#d5effc"/>
<rect x="142.17" y="252.67" width="7.35" height="4.91" fill="#eaf7fd"/>
<rect x="156.78" y="252.67" width="7.35" height="4.91" fill="#eaf7fd"/>
<rect x="164.08" y="252.67" width="7.35" height="4.91" fill="#bfe7fa"/>
<rect x="171.38" y="252.67" width="7.35" height="4.91" fill="#92d0f1"/>
<rect x="178.69" y="252.67" width="7.35" height="4.91" fill="#7fbfe7"/>
<rect x="185.99" y="252.67" width="14.65" height="4.91" fill="#488fc6"/>
<rect x="200.59" y="252.67" width="7.35" height="4.91" fill="#48a18a"/>
<rect x="207.89" y="252.67" width="7.35" height="4.91" fill="#49b251"/>
<rect x="215.20" y="252.67" width="7.35" height="4.91" fill="#8cc84e"/>
<rect x="222.50" y="252.67" width="7.35" height="4.91" fill="#b7d554"/>
<rect x="229.80" y="252.67" width="7.35" height="4.91" fill="#dde058"/>
<rect x="237.11" y="252.67" width="36.56" height="4.91" fill="#fae159"/>
<rect x="273.62" y="252.67" width="7.35" height="4.91" fill="#dde058"/>
<rect x="280.92" y="252.67" width="7.35" height="4.91" fill="#8cc84e"/>
<rect x="288.22" y="252.67" width="7.35" height="4.91" fill="#66bd4a"/>
<rect x="295.53" y="252.67" width="7.35" height="4.91" fill="#49a96d"/>
<rect x="302.83" y="252.67" width="7.35" height="4.91" fill="#488fc6"/>
<rect x="310.13" y="252.67" width="7.35" height="4.91" fill="#bfe7fa"/>
<rect x="98.36" y="257.54" width="7.35" height="4.91" fill="#eaf7fd"/>
<rect x="112.96" y="257.54" width="29.26" height="4.91" fill="#eaf7fd"/>
<rect x="156.78" y="257.54" width="7.35" height="4.91" fill="#eaf7fd"/>
<rect x="164.08" y="257.54" width="7.35" height="4.91" fill="#d5effc"/>
<rect x="171.38" y="257.54" width="7.35" height="4.91" fill="#a8def8"/>
<rect x="178.69" y="257.54" width="7.35" height="4.91" fill="#6dafdd"/>
<rect x="185.99" y="257.54" width="7.35" height="4.91" fill="#488fc6"/>
<rect x="193.29" y="257.54" width="7.35" height="4.91" fill="#4899a6"/>
<rect x="200.59" y="257.54" width="7.35" height="4.91" fill="#49a96d"/>
<rect x="207.89" y="257.54" width="7.35" height="4.91" fill="#49b251"/>
<rect x="215.20" y="257.54" width="7.35" height="4.91" fill="#b7d554"/>
<rect x="222.50" y="257.54" width="14.66" height="4.91" fill="#dde058"/>
<rect x="237.11" y="257.54" width="29.26" height="4.91" fill="#fae159"/>
<rect x="266.31" y="257.54" width="7.35" height="4.91" fill="#dde058"/>
<rect x="273.62" y="257.54" width="7.35" height="4.91" fill="#b7d554"/>
<rect x="280.92" y="257.54" width="7.35" height="4.91" fill="#8cc84e"/>
<rect x="288.22" y="257.54" width="7.35" height="4.91" fill="#49b251"/>
<rect x="295.53" y="257.54" width="7.35" height="4.91" fill="#4899a6"/>
<rect x="302.83" y="257.54" width="7.35" height="4.91" fill="#7fbfe7"/>
<rect x="310.13" y="257.54" width="7.35" height="4.91" fill="#eaf7fd"/>
<rect x="156.78" y="262.40" width="7.35" height="4.91" fill="#eaf7fd"/>
<rect x="164.08" y="262.40" width="7.35" height="4.91" fill="#d5effc"/>
<rect x="171.38" y="262.40" width="7.35" height="4.91" fill="#a8def8"/>
<rect x="178.69" y="262.40" width="7.35" height="4.91" fill="#6dafdd"/>
<rect x="185.99" y="262.40" width="7.35" height="4.91" fill="#488fc6"/>
<rect x="193.29" y="262.40" width="7.35" height="4.91" fill="#4899a6"/>
<rect x="200.59" y="262.40" width="7.35" height="4.91" fill="#49a96d"/>
<rect x="207.89" y="262.40" width="7.35" height="4.91" fill="#66bd4a"/>
<rect x="215.20" y="262.40" width="7.35" height="4.91" fill="#b7d554"/>
<rect x="222.50" y="262.40" width="43.86" height="4.91" fill="#fae159"/>
<rect x="266.31" y="262.40" width="7.35" height="4.91" fill="#dde058"/>
<rect x="273.62" y="262.40" width="7.35" height="4.91" fill="#b7d554"/>
<rect x="280.92" y="262.40" width="7.35" height="4.91" fill="#66bd4a"/>
<rect x="288.22" y="262.40" width="7.35" height="4.91" fill="#49a96d"/>
<rect x="295.53" y="262.40" width="7.35" height="4.91" fill="#5a9ed4"/>
<rect x="302.83" y="262.40" width="7.35" height="4.91" fill="#bfe7fa"/>
<rect x="149.48" y="267.26" width="7.35" height="4.91" fill="#eaf7fd"/>
<rect x="156.78" y="267.26" width="7.35" height="4.91" fill="#d5effc"/>
<rect x="164.08" y="267.26" width="7.35" height="4.91" fill="#bfe7fa"/>
<rect x="171.38" y="267.26" width="7.35" height="4.91" fill="#a8def8"/>
<rect x="178.69" y="267.26" width="7.35" height="4.91" fill="#7fbfe7"/>
<rect x="185.99" y="267.26" width="7.35" height="4.91" fill="#488fc6"/>
<rect x="193.29" y="267.26" width="7.35" height="4.91" fill="#4899a6"/>
<rect x="200.59" y="267.26" width="7.35" height="4.91" fill="#49b251"/>
<rect x="207.89" y="267.26" width="7.35" height="4.91" fill="#8cc84e"/>
<rect x="215.20" y="267.26" width="7.35" height="4.91" fill="#dde058"/>
<rect x="222.50" y="267.26" width="14.66" height="4.91" fill="#fae159"/>
<rect x="237.11" y="267.26" width="14.65" height="4.91" fill="#f9c64e"/>
<rect x="251.71" y="267.26" width="14.66" height="4.91" fill="#fae159"/>
<rect x="266.31" y="267.26" width="7.35" height="4.91" fill="#b7d554"/>
<rect x="273.62" y="267.26" width="7.35" height="4.91" fill="#8cc84e"/>
<rect x="280.92" y="267.26" width="7.35" height="4.91" fill="#49b251"/>
<rect x="288.22" y="267.26" width="7.35" height="4.91" fill="#48a18a"/>
<rect x="295.53" y="267.26" width="7.35" height="4.91" fill="#92d0f1"/>
<rect x="149.48" y="272.12" width="7.35" height="4.91" fill="#d5effc"/>
<rect x="156.78" y="272.12" width="7.35" height="4.91" fill="#bfe7fa"/>
<rect x="164.08" y="272.12" width="7.35" height="4.91" fill="#a8def8"/>
<rect x="171.38" y="272.12" width="7.35" height="4.91" fill="#92d0f1"/>
<rect x="178.69" y="272.12" width="7.35" height="4.91" fill="#6dafdd"/>
<rect x="185.99" y="272.12" width="7.35" height="4.91" fill="#488fc6"/>
<rect x="193.29" y="272.12" width="7.35" height="4.91" fill="#4899a6"/>
<rect x="200.59" y="272.12" width="7.35" height="4.91" fill="#49b251"/>
<rect x="207.89" y="272.12" width="7.35" height="4.91" fill="#8cc84e"/>
<rect x="215.20" y="272.12" width="7.35" height="4.91" fill="#dde058"/>
<rect x="222.50" y="272.12" width="7.35" height="4.91" fill="#fae159"/>
<rect x="229.80" y="272.12" width="21.96" height="4.91" fill="#f9c64e"/>
<rect x="251.71" y="272.12" width="7.35" height="4.91" fill="#fae159"/>
<rect x="259.01" y="272.12" width="7.35" height="4.91" fill="#dde058"/>
<rect x="266.31" y="272.12" width="7.35" height="4.91" fill="#b7d554"/>
<rect x="273.62" y="272.12" width="7.35" height="4.91" fill="#8cc84e"/>
<rect x="280.92" y="272.12" width="7.35" height="4.91" fill="#48a18a"/>
<rect x="288.22" y="272.12" width="7.35" height="4.91" fill="#6dafdd"/>
<rect x="295.53" y="272.12" width="7.35" height="4.91" fill="#d5effc"/>
<rect x="149.48" y="276.98" width="7.35" height="4.91" fill="#bfe7fa"/>
<rect x="156.78" y="276.98" width="7.35" height="4.91" fill="#a8def8"/>
<rect x="164.08" y="276.98" width="14.66" height="4.91" fill="#92d0f1"/>
<rect x="178.69" y="276.98" width="7.35" height="4.91" fill="#6dafdd"/>
<rect x="185.99" y="276.98" width="7.35" height="4.91" fill="#488fc6"/>
<rect x="193.29" y="276.98" width="7.35" height="4.91" fill="#48a18a"/>
<rect x="200.59" y="276.98" width="7.35" height="4.91" fill="#66bd4a"/>
<rect x="207.89" y="276.98" width="7.35" height="4.91" fill="#b7d554"/>
<rect x="215.20" y="276.98" width="7.35" height="4.91" fill="#fae159"/>
<rect x="222.50" y="276.98" width="21.96" height="4.91" fill="#f9c64e"/>
<rect x="244.41" y="276.98" width="14.65" height="4.91" fill="#fae159"/>
<rect x="259.01" y="276.98" width="7.35" height="4.91" fill="#dde058"/>
<rect x="266.31" y="276.98" width="7.35" height="4.91" fill="#66bd4a"/>
<rect x="273.62" y="276.98" width="7.35" height="4.91" fill="#49b251"/>
<rect x="280.92" y="276.98" width="7.35" height="4.91" fill="#488fc6"/>
<rect x="288.22" y="276.98" width="7.35" height="4.91" fill="#bfe7fa"/>
<rect x="149.48" y="281.84" width="14.65" height="4.91" fill="#a8def8"/>
<rect x="164.08" y="281.84" width="14.66" height="4.91" fill="#92d0f1"/>
<rect x="178.69" y="281.84" width="7.35" height="4.91" fill="#5a9ed4"/>
<rect x="185.99" y="281.84" width="7.35" height="4.91" fill="#488fc6"/>
<rect x="193.29" y="281.84" width="7.35" height="4.91" fill="#49a96d"/>
<rect x="200.59" y="281.84" width="7.35" height="4.91" fill="#8cc84e"/>
<rect x="207.89" y="281.84" width="7.35" height="4.91" fill="#dde058"/>
<rect x="215.20" y="281.84" width="7.35" height="4.91" fill="#fae159"/>
<rect x="222.50" y="281.84" width="21.96" height="4.91" fill="#f9c64e"/>
<rect x="244.41" y="281.84" width="7.35" height="4.91" fill="#fae159"/>
<rect x="251.71" y="281.84" width="7.35" height="4.91" fill="#dde058"/>
<rect x="259.01" y="281.84" width="7.35" height="4.91" fill="#8cc84e"/>
<rect x="266.31" y="281.84" width="7.35" height="4.91" fill="#49b251"/>
<rect x="273.62" y="281.84" width="7.35" height="4.91" fill="#4899a6"/>
<rect x="280.92" y="281.84" width="7.35" height="4.91" fill="#a8def8"/>
<rect x="149.48" y="286.70" width="14.65" height="4.91" fill="#a8def8"/>
<rect x="164.08" y="286.70" width="14.66" height="4.91" fill="#92d0f1"/>
<rect x="178.69" y="286.70" width="7.35" height="4.91" fill="#488fc6"/>
<rect x="185.99" y="286.70" width="7.35" height="4.91" fill="#4899a6"/>
<rect x="193.29" y="286.70" width="7.35" height="4.91" fill="#66bd4a"/>
<rect x="200.59" y="286.70" width="7.35" height="4.91" fill="#b7d554"/>
<rect x="207.89" y="286.70" width="7.35" height="4.91" fill="#fae159"/>
<rect x="215.20" y="286.70" width="21.96" height="4.91" fill="#f9c64e"/>
<rect x="237.11" y="286.70" width="7.35" height="4.91" fill="#fae159"/>
<rect x="244.41" y="286.70" width="7.35" height="4.91" fill="#dde058"/>
<rect x="251.71" y="286.70" width="7.35" height="4.91" fill="#b7d554"/>
<rect x="259.01" y="286.70" width="7.35" height="4.91" fill="#66bd4a"/>
<rect x="266.31" y="286.70" width="7.35" height="4.91" fill="#48a18a"/>
<rect x="273.62" y="286.70" width="7.35" height="4.91" fill="#7fbfe7"/>
<rect x="149.48" y="291.56" width="7.35" height="4.91" fill="#d5effc"/>
<rect x="156.78" y="291.56" width="7.35" height="4.91" fill="#bfe7fa"/>
<rect x="164.08" y="291.56" width="14.66" height="4.91" fill="#92d0f1"/>
<rect x="178.69" y="291.56" width="7.35" height="4.91" fill="#4899a6"/>
<rect x="185.99" y="291.56" width="7.35" height="4.91" fill="#49a96d"/>
<rect x="193.29" y="291.56" width="7.35" height="4.91" fill="#8cc84e"/>
<rect x="200.59" y="291.56" width="7.35" height="4.91" fill="#dde058"/>
<rect x="207.89" y="291.56" width="7.35" height="4.91" fill="#fae159"/>
<rect x="215.20" y="291.56" width="21.96" height="4.91" fill="#f9c64e"/>
<rect x="237.11" y="291.56" width="7.35" height="4.91" fill="#fae159"/>
<rect x="244.41" y="291.56" width="7.35" height="4.91" fill="#b7d554"/>
<rect x="251.71" y="291.56" width="7.35" height="4.91" fill="#66bd4a"/>
<rect x="259.01" y="291.56" width="7.35" height="4.91" fill="#49a96d"/>
<rect x="266.31" y="291.56" width="7.35" height="4.91" fill="#5a9ed4"/>
<rect x="273.62" y="291.56" width="7.35" height="4.91" fill="#d5effc"/>
<rect x="156.78" y="296.42" width="7.35" height="4.91" fill="#a8def8"/>
<rect x="164.08" y="296.42" width="7.35" height="4.91" fill="#92d0f1"/>
<rect x="171.38" y="296.42" width="7.35" height="4.91" fill="#488fc6"/>
<rect x="178.69" y="296.42" width="7.35" height="4.91" fill="#49a96d"/>
<rect x="185.99" y="296.42" width="7.35" height="4.91" fill="#66bd4a"/>
<rect x="193.29" y="296.42" width="7.35" height="4.91" fill="#dde058"/>
<rect x="200.59" y="296.42" width="7.35" height="4.91" fill="#fae159"/>
<rect x="207.89" y="296.42" width="21.96" height="4.91" fill="#f9c64e"/>
<rect x="229.80" y="296.42" width="7.35" height="4.91" fill="#fae159"/>
<rect x="237.11" y="296.42" width="7.35" height="4.91" fill="#dde058"/>
<rect x="244.41" y="296.42" width="7.35" height="4.91" fill="#66bd4a"/>
<rect x="251.71" y="296.42" width="7.35" height="4.91" fill="#48a18a"/>
<rect x="259.01" y="296.42" width="7.35" height="4.91" fill="#5a9ed4"/>
<rect x="266.31" y="296.42" width="7.35" height="4.91" fill="#d5effc"/>
<rect x="149.48" y="301.28" width="7.35" height="4.91" fill="#eaf7fd"/>
<rect x="156.78" y="301.28" width="7.35" height="4.91" fill="#7fbfe7"/>
<rect x="164.08" y="301.28" width="7.35" height="4.91" fill="#6dafdd"/>
<rect x="171.38" y="301.28" width="7.35" height="4.91" fill="#48a18a"/>
<rect x="178.69" y="301.28" width="7.35" height="4.91" fill="#49b251"/>
<rect x="185.99" y="301.28" width="7.35" height="4.91" fill="#b7d554"/>
<rect x="193.29" y="301.28" width="21.96" height="4.91" fill="#f9c64e"/>
<rect x="215.20" y="301.28" width="14.66" height="4.91" fill="#fae159"/>
<rect x="229.80" y="301.28" width="7.35" height="4.91" fill="#dde058"/>
<rect x="237.11" y="301.28" width="7.35" height="4.91" fill="#8cc84e"/>
<rect x="244.41" y="301.28" width="7.35" height="4.91" fill="#48a18a"/>
<rect x="251.71" y="301.28" width="7.35" height="4.91" fill="#92d0f1"/>
<rect x="149.48" y="306.15" width="7.35" height="4.91" fill="#7fbfe7"/>
<rect x="156.78" y="306.15" width="7.35" height="4.91" fill="#6dafdd"/>
<rect x="164.08" y="306.15" width="7.35" height="4.91" fill="#488fc6"/>
<rect x="171.38" y="306.15" width="7.35" height="4.91" fill="#49b251"/>
<rect x="178.69" y="306.15" width="7.35" height="4.91" fill="#8cc84e"/>
<rect x="185.99" y="306.15" width="7.35" height="4.91" fill="#fae159"/>
<rect x="193.29" y="306.15" width="14.65" height="4.91" fill="#f9c64e"/>
<rect x="207.89" y="306.15" width="14.66" height="4.91" fill="#fae159"/>
<rect x="222.50" y="306.15" width="7.35" height="4.91" fill="#dde058"/>
<rect x="229.80" y="306.15" width="7.35" height="4.91" fill="#b7d554"/>
<rect x="237.11" y="306.15" width="7.35" height="4.91" fill="#49b251"/>
<rect x="244.41" y="306.15" width="7.35" height="4.91" fill="#5a9ed4"/>
<rect x="149.48" y="311.01" width="7.35" height="4.91" fill="#5a9ed4"/>
<rect x="156.78" y="311.01" width="7.35" height="4.91" fill="#488fc6"/>
<rect x="164.08" y="311.01" width="7.35" height="4.91" fill="#48a18a"/>
<rect x="171.38" y="311.01" width="7.35" height="4.91" fill="#8cc84e"/>
<rect x="178.69" y="311.01" width="7.35" height="4.91" fill="#dde058"/>
<rect x="185.99" y="311.01" width="21.96" height="4.91" fill="#f9c64e"/>
<rect x="207.89" y="311.01" width="7.35" height="4.91" fill="#fae159"/>
<rect x="215.20" y="311.01" width="7.35" height="4.91" fill="#dde058"/>
<rect x="222.50" y="311.01" width="7.35" height="4.91" fill="#8cc84e"/>
<rect x="229.80" y="311.01" width="7.35" height="4.91" fill="#66bd4a"/>
<rect x="237.11" y="311.01" width="7.35" height="4.91" fill="#4899a6"/>
<rect x="244.41" y="311.01" width="7.35" height="4.91" fill="#bfe7fa"/>
<rect x="149.48" y="315.87" width="7.35" height="4.91" fill="#5a9ed4"/>
<rect x="156.78" y="315.87" width="7.35" height="4.91" fill="#4899a6"/>
<rect x="164.08" y="315.87" width="7.35" height="4.91" fill="#8cc84e"/>
<rect x="171.38" y="315.87" width="7.35" height="4.91" fill="#dde058"/>
<rect x="178.69" y="315.87" width="7.35" height="4.91" fill="#fae159"/>
<rect x="185.99" y="315.87" width="14.65" height="4.91" fill="#f9c64e"/>
<rect x="200.59" y="315.87" width="7.35" height="4.91" fill="#fae159"/>
<rect x="207.89" y="315.87" width="7.35" height="4.91" fill="#b7d554"/>
<rect x="215.20" y="315.87" width="7.35" height="4.91" fill="#8cc84e"/>
<rect x="222.50" y="315.87" width="7.35" height="4.91" fill="#49b251"/>
<rect x="229.80" y="315.87" width="7.35" height="4.91" fill="#4899a6"/>
<rect x="237.11" y="315.87" width="7.35" height="4.91" fill="#bfe7fa"/>
<rect x="149.48" y="320.73" width="7.35" height="4.91" fill="#5a9ed4"/>
<rect x="156.78" y="320.73" width="7.35" height="4.91" fill="#49b251"/>
<rect x="164.08" y="320.73" width="7.35" height="4.91" fill="#dde058"/>
<rect x="171.38" y="320.73" width="7.35" height="4.91" fill="#fae159"/>
<rect x="178.69" y="320.73" width="14.66" height="4.91" fill="#f9c64e"/>
<rect x="193.29" y="320.73" width="7.35" height="4.91" fill="#fae159"/>
<rect x="200.59" y="320.73" width="7.35" height="4.91" fill="#b7d554"/>
<rect x="207.89" y="320.73" width="7.35" height="4.91" fill="#66bd4a"/>
<rect x="215.20" y="320.73" width="7.35" height="4.91" fill="#48a18a"/>
<rect x="222.50" y="320.73" width="7.35" height="4.91" fill="#5a9ed4"/>
<rect x="229.80" y="320.73" width="7.35" height="4.91" fill="#bfe7fa"/>
<rect x="149.48" y="325.59" width="7.35" height="4.91" fill="#49a96d"/>
<rect x="156.78" y="325.59" width="7.35" height="4.91" fill="#8cc84e"/>
<rect x="164.08" y="325.59" width="7.35" height="4.91" fill="#fae159"/>
<rect x="171.38" y="325.59" width="21.96" height="4.91" fill="#f9c64e"/>
<rect x="193.29" y="325.59" width="7.35" height="4.91" fill="#dde058"/>
<rect x="200.59" y="325.59" width="7.35" height="4.91" fill="#8cc84e"/>
<rect x="207.89" y="325.59" width="7.35" height="4.91" fill="#49a96d"/>
<rect x="215.20" y="325.59" width="7.35" height="4.91" fill="#5a9ed4"/>
<rect x="222.50" y="325.59" width="7.35" height="4.91" fill="#d5effc"/>
<rect x="149.48" y="330.45" width="7.35" height="4.91" fill="#66bd4a"/>
<rect x="156.78" y="330.45" width="7.35" height="4.91" fill="#dde058"/>
<rect x="164.08" y="330.45" width="7.35" height="4.91" fill="#f9c64e"/>
<rect x="171.38" y="330.45" width="7.35" height="4.91" fill="#f8ab43"/>
<rect x="178.69" y="330.45" width="7.35" height="4.91" fill="#f9c64e"/>
<rect x="185.99" y="330.45" width="7.35" height="4.91" fill="#fae159"/>
<rect x="193.29" y="330.45" width="7.35" height="4.91" fill="#b7d554"/>
<rect x="200.59" y="330.45" width="7.35" height="4.91" fill="#49b251"/>
<rect x="207.89" y="330.45" width="7.35" height="4.91" fill="#488fc6"/>
<rect x="215.20" y="330.45" width="7.35" height="4.91" fill="#bfe7fa"/>
<rect x="149.48" y="335.31" width="7.35" height="4.91" fill="#dde058"/>
<rect x="156.78" y="335.31" width="21.96" height="4.91" fill="#f8ab43"/>
<rect x="178.69" y="335.31" width="7.35" height="4.91" fill="#f9c64e"/>
<rect x="185.99" y="335.31" width="7.35" height="4.91" fill="#dde058"/>
<rect x="193.29" y="335.31" width="7.35" height="4.91" fill="#66bd4a"/>
<rect x="200.59" y="335.31" width="7.35" height="4.91" fill="#4899a6"/>
<rect x="207.89" y="335.31" width="7.35" height="4.91" fill="#bfe7fa"/>
<rect x="142.17" y="340.17" width="7.35" height="4.91" fill="#49b251"/>
<rect x="149.48" y="340.17" width="21.96" height="4.91" fill="#f8ab43"/>
<rect x="171.38" y="340.17" width="7.35" height="4.91" fill="#f9c64e"/>
<rect x="178.69" y="340.17" width="7.35" height="4.91" fill="#fae159"/>
<rect x="185.99" y="340.17" width="7.35" height="4.91" fill="#66bd4a"/>
<rect x="193.29" y="340.17" width="7.35" height="4.91" fill="#5a9ed4"/>
<rect x="200.59" y="340.17" width="7.35" height="4.91" fill="#d5effc"/>
<rect x="142.17" y="345.03" width="7.35" height="4.91" fill="#fae159"/>
<rect x="149.48" y="345.03" width="7.35" height="4.91" fill="#f68f38"/>
<rect x="156.78" y="345.03" width="14.65" height="4.91" fill="#f8ab43"/>
<rect x="171.38" y="345.03" width="7.35" height="4.91" fill="#dde058"/>
<rect x="178.69" y="345.03" width="7.35" height="4.91" fill="#49b251"/>
<rect x="185.99" y="345.03" width="7.35" height="4.91" fill="#7fbfe7"/>
<rect x="134.87" y="349.89" width="7.35" height="4.91" fill="#eaf7fd"/>
<rect x="142.17" y="349.89" width="7.35" height="4.91" fill="#f8ab43"/>
<rect x="149.48" y="349.89" width="7.35" height="4.91" fill="#f68f38"/>
<rect x="156.78" y="349.89" width="7.35" height="4.91" fill="#f8ab43"/>
<rect x="164.08" y="349.89" width="7.35" height="4.91" fill="#dde058"/>
<rect x="171.38" y="349.89" width="7.35" height="4.91" fill="#48a18a"/>
<rect x="178.69" y="349.89" width="7.35" height="4.91" fill="#a8def8"/>
<rect x="134.87" y="354.76" width="7.35" height="4.91" fill="#eaf7fd"/>
<rect x="142.17" y="354.76" width="7.35" height="4.91" fill="#f8ab43"/>
<rect x="149.48" y="354.76" width="7.35" height="4.91" fill="#fae159"/>
<rect x="156.78" y="354.76" width="7.35" height="4.91" fill="#66bd4a"/>
<rect x="164.08" y="354.76" width="7.35" height="4.91" fill="#5a9ed4"/>
<rect x="142.17" y="359.62" width="7.35" height="4.91" fill="#66bd4a"/>
<rect x="149.48" y="359.62" width="7.35" height="4.91" fill="#5a9ed4"/>
</g>
<g shape-rendering="crispEdges">
<rect x="444.0" y="360.43" width="20.60" height="8.83" fill="#eaf7fd"/>
<rect x="444.0" y="351.65" width="20.60" height="8.83" fill="#d5effc"/>
<rect x="444.0" y="342.88" width="20.60" height="8.83" fill="#bfe7fa"/>
<rect x="444.0" y="334.10" width="20.60" height="8.83" fill="#a8def8"/>
<rect x="444.0" y="325.32" width="20.60" height="8.83" fill="#92d0f1"/>
<rect x="444.0" y="316.55" width="20.60" height="8.83" fill="#7fbfe7"/>
<rect x="444.0" y="307.77" width="20.60" height="8.83" fill="#6dafdd"/>
<rect x="444.0" y="299.00" width="20.60" height="8.83" fill="#5a9ed4"/>
<rect x="444.0" y="290.22" width="20.60" height="8.83" fill="#488fc6"/>
<rect x="444.0" y="281.45" width="20.60" height="8.83" fill="#4899a6"/>
<rect x="444.0" y="272.67" width="20.60" height="8.83" fill="#48a18a"/>
<rect x="444.0" y="263.90" width="20.60" height="8.83" fill="#49a96d"/>
<rect x="444.0" y="255.12" width="20.60" height="8.83" fill="#49b251"/>
<rect x="444.0" y="246.35" width="20.60" height="8.83" fill="#66bd4a"/>
<rect x="444.0" y="237.57" width="20.60" height="8.83" fill="#8cc84e"/>
<rect x="444.0" y="228.80" width="20.60" height="8.83" fill="#b7d554"/>
<rect x="444.0" y="220.02" width="20.60" height="8.83" fill="#dde058"/>
<rect x="444.0" y="211.25" width="20.60" height="8.83" fill="#fae159"/>
<rect x="444.0" y="202.47" width="20.60" height="8.83" fill="#f9c64e"/>
<rect x="444.0" y="193.70" width="20.60" height="8.83" fill="#f8ab43"/>
<rect x="444.0" y="184.92" width="20.60" height="8.83" fill="#f68f38"/>
<rect x="444.0" y="176.15" width="20.60" height="8.83" fill="#f5712c"/>
<rect x="444.0" y="167.37" width="20.60" height="8.83" fill="#ef5c29"/>
<rect x="444.0" y="158.60" width="20.60" height="8.83" fill="#e74c29"/>
<rect x="444.0" y="149.82" width="20.60" height="8.83" fill="#e03b28"/>
<rect x="444.0" y="141.05" width="20.60" height="8.83" fill="#d92b28"/>
<rect x="444.0" y="132.27" width="20.60" height="8.83" fill="#ce1e27"/>
<rect x="444.0" y="123.50" width="20.60" height="8.83" fill="#be1c23"/>
<rect x="444.0" y="114.72" width="20.60" height="8.83" fill="#b01a20"/>
<rect x="444.0" y="105.95" width="20.60" height="8.83" fill="#a2171d"/>
<rect x="444.0" y="97.17" width="20.60" height="8.83" fill="#921519"/>
</g>
<g>
<rect x="72.8" y="31.5" width="343.3" height="350.0" fill="none" stroke="#3a3a3a" stroke-width="0.5"/>
<line x1="112.97" y1="381.5" x2="112.97" y2="390.7" stroke="#3a3a3a" stroke-width="0.5" opacity="1"/>
<line x1="112.97" y1="31.5" x2="112.97" y2="22.3" stroke="#3a3a3a" stroke-width="0.5" opacity="1"/>
<line x1="156.80" y1="381.5" x2="156.80" y2="386.1" stroke="#3a3a3a" stroke-width="0.5" opacity="0.55"/>
<line x1="156.80" y1="31.5" x2="156.80" y2="26.9" stroke="#3a3a3a" stroke-width="0.5" opacity="0.55"/>
<line x1="200.62" y1="381.5" x2="200.62" y2="386.1" stroke="#3a3a3a" stroke-width="0.5" opacity="0.55"/>
<line x1="200.62" y1="31.5" x2="200.62" y2="26.9" stroke="#3a3a3a" stroke-width="0.5" opacity="0.55"/>
<line x1="244.45" y1="381.5" x2="244.45" y2="390.7" stroke="#3a3a3a" stroke-width="0.5" opacity="1"/>
<line x1="244.45" y1="31.5" x2="244.45" y2="22.3" stroke="#3a3a3a" stroke-width="0.5" opacity="1"/>
<line x1="288.28" y1="381.5" x2="288.28" y2="386.1" stroke="#3a3a3a" stroke-width="0.5" opacity="0.55"/>
<line x1="288.28" y1="31.5" x2="288.28" y2="26.9" stroke="#3a3a3a" stroke-width="0.5" opacity="0.55"/>
<line x1="332.10" y1="381.5" x2="332.10" y2="386.1" stroke="#3a3a3a" stroke-width="0.5" opacity="0.55"/>
<line x1="332.10" y1="31.5" x2="332.10" y2="26.9" stroke="#3a3a3a" stroke-width="0.5" opacity="0.55"/>
<line x1="375.93" y1="381.5" x2="375.93" y2="390.7" stroke="#3a3a3a" stroke-width="0.5" opacity="1"/>
<line x1="375.93" y1="31.5" x2="375.93" y2="22.3" stroke="#3a3a3a" stroke-width="0.5" opacity="1"/>
<line x1="72.8" y1="381.50" x2="63.599999999999994" y2="381.50" stroke="#3a3a3a" stroke-width="0.5" opacity="1"/>
<line x1="416.1" y1="381.50" x2="425.3" y2="381.50" stroke="#3a3a3a" stroke-width="0.5" opacity="1"/>
<line x1="72.8" y1="376.64" x2="68.2" y2="376.64" stroke="#3a3a3a" stroke-width="0.5" opacity="0.55"/>
<line x1="416.1" y1="376.64" x2="420.70000000000005" y2="376.64" stroke="#3a3a3a" stroke-width="0.5" opacity="0.55"/>
<line x1="72.8" y1="371.78" x2="68.2" y2="371.78" stroke="#3a3a3a" stroke-width="0.5" opacity="0.55"/>
<line x1="416.1" y1="371.78" x2="420.70000000000005" y2="371.78" stroke="#3a3a3a" stroke-width="0.5" opacity="0.55"/>
<line x1="72.8" y1="366.92" x2="68.2" y2="366.92" stroke="#3a3a3a" stroke-width="0.5" opacity="0.55"/>
<line x1="416.1" y1="366.92" x2="420.70000000000005" y2="366.92" stroke="#3a3a3a" stroke-width="0.5" opacity="0.55"/>
<line x1="72.8" y1="362.06" x2="68.2" y2="362.06" stroke="#3a3a3a" stroke-width="0.5" opacity="0.55"/>
<line x1="416.1" y1="362.06" x2="420.70000000000005" y2="362.06" stroke="#3a3a3a" stroke-width="0.5" opacity="0.55"/>
<line x1="72.8" y1="357.19" x2="68.2" y2="357.19" stroke="#3a3a3a" stroke-width="0.5" opacity="0.55"/>
<line x1="416.1" y1="357.19" x2="420.70000000000005" y2="357.19" stroke="#3a3a3a" stroke-width="0.5" opacity="0.55"/>
<line x1="72.8" y1="352.33" x2="68.2" y2="352.33" stroke="#3a3a3a" stroke-width="0.5" opacity="0.55"/>
<line x1="416.1" y1="352.33" x2="420.70000000000005" y2="352.33" stroke="#3a3a3a" stroke-width="0.5" opacity="0.55"/>
<line x1="72.8" y1="347.47" x2="68.2" y2="347.47" stroke="#3a3a3a" stroke-width="0.5" opacity="0.55"/>
<line x1="416.1" y1="347.47" x2="420.70000000000005" y2="347.47" stroke="#3a3a3a" stroke-width="0.5" opacity="0.55"/>
<line x1="72.8" y1="342.61" x2="68.2" y2="342.61" stroke="#3a3a3a" stroke-width="0.5" opacity="0.55"/>
<line x1="416.1" y1="342.61" x2="420.70000000000005" y2="342.61" stroke="#3a3a3a" stroke-width="0.5" opacity="0.55"/>
<line x1="72.8" y1="337.75" x2="68.2" y2="337.75" stroke="#3a3a3a" stroke-width="0.5" opacity="0.55"/>
<line x1="416.1" y1="337.75" x2="420.70000000000005" y2="337.75" stroke="#3a3a3a" stroke-width="0.5" opacity="0.55"/>
<line x1="72.8" y1="332.89" x2="68.2" y2="332.89" stroke="#3a3a3a" stroke-width="0.5" opacity="0.55"/>
<line x1="416.1" y1="332.89" x2="420.70000000000005" y2="332.89" stroke="#3a3a3a" stroke-width="0.5" opacity="0.55"/>
<line x1="72.8" y1="328.03" x2="68.2" y2="328.03" stroke="#3a3a3a" stroke-width="0.5" opacity="0.55"/>
<line x1="416.1" y1="328.03" x2="420.70000000000005" y2="328.03" stroke="#3a3a3a" stroke-width="0.5" opacity="0.55"/>
<line x1="72.8" y1="323.17" x2="63.599999999999994" y2="323.17" stroke="#3a3a3a" stroke-width="0.5" opacity="1"/>
<line x1="416.1" y1="323.17" x2="425.3" y2="323.17" stroke="#3a3a3a" stroke-width="0.5" opacity="1"/>
<line x1="72.8" y1="318.31" x2="68.2" y2="318.31" stroke="#3a3a3a" stroke-width="0.5" opacity="0.55"/>
<line x1="416.1" y1="318.31" x2="420.70000000000005" y2="318.31" stroke="#3a3a3a" stroke-width="0.5" opacity="0.55"/>
<line x1="72.8" y1="313.44" x2="68.2" y2="313.44" stroke="#3a3a3a" stroke-width="0.5" opacity="0.55"/>
<line x1="416.1" y1="313.44" x2="420.70000000000005" y2="313.44" stroke="#3a3a3a" stroke-width="0.5" opacity="0.55"/>
<line x1="72.8" y1="308.58" x2="68.2" y2="308.58" stroke="#3a3a3a" stroke-width="0.5" opacity="0.55"/>
<line x1="416.1" y1="308.58" x2="420.70000000000005" y2="308.58" stroke="#3a3a3a" stroke-width="0.5" opacity="0.55"/>
<line x1="72.8" y1="303.72" x2="68.2" y2="303.72" stroke="#3a3a3a" stroke-width="0.5" opacity="0.55"/>
<line x1="416.1" y1="303.72" x2="420.70000000000005" y2="303.72" stroke="#3a3a3a" stroke-width="0.5" opacity="0.55"/>
<line x1="72.8" y1="298.86" x2="68.2" y2="298.86" stroke="#3a3a3a" stroke-width="0.5" opacity="0.55"/>
<line x1="416.1" y1="298.86" x2="420.70000000000005" y2="298.86" stroke="#3a3a3a" stroke-width="0.5" opacity="0.55"/>
<line x1="72.8" y1="294.00" x2="68.2" y2="294.00" stroke="#3a3a3a" stroke-width="0.5" opacity="0.55"/>
<line x1="416.1" y1="294.00" x2="420.70000000000005" y2="294.00" stroke="#3a3a3a" stroke-width="0.5" opacity="0.55"/>
<line x1="72.8" y1="289.14" x2="68.2" y2="289.14" stroke="#3a3a3a" stroke-width="0.5" opacity="0.55"/>
<line x1="416.1" y1="289.14" x2="420.70000000000005" y2="289.14" stroke="#3a3a3a" stroke-width="0.5" opacity="0.55"/>
<line x1="72.8" y1="284.28" x2="68.2" y2="284.28" stroke="#3a3a3a" stroke-width="0.5" opacity="0.55"/>
<line x1="416.1" y1="284.28" x2="420.70000000000005" y2="284.28" stroke="#3a3a3a" stroke-width="0.5" opacity="0.55"/>
<line x1="72.8" y1="279.42" x2="68.2" y2="279.42" stroke="#3a3a3a" stroke-width="0.5" opacity="0.55"/>
<line x1="416.1" y1="279.42" x2="420.70000000000005" y2="279.42" stroke="#3a3a3a" stroke-width="0.5" opacity="0.55"/>
<line x1="72.8" y1="274.56" x2="68.2" y2="274.56" stroke="#3a3a3a" stroke-width="0.5" opacity="0.55"/>
<line x1="416.1" y1="274.56" x2="420.70000000000005" y2="274.56" stroke="#3a3a3a" stroke-width="0.5" opacity="0.55"/>
<line x1="72.8" y1="269.69" x2="68.2" y2="269.69" stroke="#3a3a3a" stroke-width="0.5" opacity="0.55"/>
<line x1="416.1" y1="269.69" x2="420.70000000000005" y2="269.69" stroke="#3a3a3a" stroke-width="0.5" opacity="0.55"/>
<line x1="72.8" y1="264.83" x2="63.599999999999994" y2="264.83" stroke="#3a3a3a" stroke-width="0.5" opacity="1"/>
<line x1="416.1" y1="264.83" x2="425.3" y2="264.83" stroke="#3a3a3a" stroke-width="0.5" opacity="1"/>
<line x1="72.8" y1="259.97" x2="68.2" y2="259.97" stroke="#3a3a3a" stroke-width="0.5" opacity="0.55"/>
<line x1="416.1" y1="259.97" x2="420.70000000000005" y2="259.97" stroke="#3a3a3a" stroke-width="0.5" opacity="0.55"/>
<line x1="72.8" y1="255.11" x2="68.2" y2="255.11" stroke="#3a3a3a" stroke-width="0.5" opacity="0.55"/>
<line x1="416.1" y1="255.11" x2="420.70000000000005" y2="255.11" stroke="#3a3a3a" stroke-width="0.5" opacity="0.55"/>
<line x1="72.8" y1="250.25" x2="68.2" y2="250.25" stroke="#3a3a3a" stroke-width="0.5" opacity="0.55"/>
<line x1="416.1" y1="250.25" x2="420.70000000000005" y2="250.25" stroke="#3a3a3a" stroke-width="0.5" opacity="0.55"/>
<line x1="72.8" y1="245.39" x2="68.2" y2="245.39" stroke="#3a3a3a" stroke-width="0.5" opacity="0.55"/>
<line x1="416.1" y1="245.39" x2="420.70000000000005" y2="245.39" stroke="#3a3a3a" stroke-width="0.5" opacity="0.55"/>
<line x1="72.8" y1="240.53" x2="68.2" y2="240.53" stroke="#3a3a3a" stroke-width="0.5" opacity="0.55"/>
<line x1="416.1" y1="240.53" x2="420.70000000000005" y2="240.53" stroke="#3a3a3a" stroke-width="0.5" opacity="0.55"/>
<line x1="72.8" y1="235.67" x2="68.2" y2="235.67" stroke="#3a3a3a" stroke-width="0.5" opacity="0.55"/>
<line x1="416.1" y1="235.67" x2="420.70000000000005" y2="235.67" stroke="#3a3a3a" stroke-width="0.5" opacity="0.55"/>
<line x1="72.8" y1="230.81" x2="68.2" y2="230.81" stroke="#3a3a3a" stroke-width="0.5" opacity="0.55"/>
<line x1="416.1" y1="230.81" x2="420.70000000000005" y2="230.81" stroke="#3a3a3a" stroke-width="0.5" opacity="0.55"/>
<line x1="72.8" y1="225.94" x2="68.2" y2="225.94" stroke="#3a3a3a" stroke-width="0.5" opacity="0.55"/>
<line x1="416.1" y1="225.94" x2="420.70000000000005" y2="225.94" stroke="#3a3a3a" stroke-width="0.5" opacity="0.55"/>
<line x1="72.8" y1="221.08" x2="68.2" y2="221.08" stroke="#3a3a3a" stroke-width="0.5" opacity="0.55"/>
<line x1="416.1" y1="221.08" x2="420.70000000000005" y2="221.08" stroke="#3a3a3a" stroke-width="0.5" opacity="0.55"/>
<line x1="72.8" y1="216.22" x2="68.2" y2="216.22" stroke="#3a3a3a" stroke-width="0.5" opacity="0.55"/>
<line x1="416.1" y1="216.22" x2="420.70000000000005" y2="216.22" stroke="#3a3a3a" stroke-width="0.5" opacity="0.55"/>
<line x1="72.8" y1="211.36" x2="68.2" y2="211.36" stroke="#3a3a3a" stroke-width="0.5" opacity="0.55"/>
<line x1="416.1" y1="211.36" x2="420.70000000000005" y2="211.36" stroke="#3a3a3a" stroke-width="0.5" opacity="0.55"/>
<line x1="72.8" y1="206.50" x2="63.599999999999994" y2="206.50" stroke="#3a3a3a" stroke-width="0.5" opacity="1"/>
<line x1="416.1" y1="206.50" x2="425.3" y2="206.50" stroke="#3a3a3a" stroke-width="0.5" opacity="1"/>
<line x1="72.8" y1="201.64" x2="68.2" y2="201.64" stroke="#3a3a3a" stroke-width="0.5" opacity="0.55"/>
<line x1="416.1" y1="201.64" x2="420.70000000000005" y2="201.64" stroke="#3a3a3a" stroke-width="0.5" opacity="0.55"/>
<line x1="72.8" y1="196.78" x2="68.2" y2="196.78" stroke="#3a3a3a" stroke-width="0.5" opacity="0.55"/>
<line x1="416.1" y1="196.78" x2="420.70000000000005" y2="196.78" stroke="#3a3a3a" stroke-width="0.5" opacity="0.55"/>
<line x1="72.8" y1="191.92" x2="68.2" y2="191.92" stroke="#3a3a3a" stroke-width="0.5" opacity="0.55"/>
<line x1="416.1" y1="191.92" x2="420.70000000000005" y2="191.92" stroke="#3a3a3a" stroke-width="0.5" opacity="0.55"/>
<line x1="72.8" y1="187.06" x2="68.2" y2="187.06" stroke="#3a3a3a" stroke-width="0.5" opacity="0.55"/>
<line x1="416.1" y1="187.06" x2="420.70000000000005" y2="187.06" stroke="#3a3a3a" stroke-width="0.5" opacity="0.55"/>
<line x1="72.8" y1="182.19" x2="68.2" y2="182.19" stroke="#3a3a3a" stroke-width="0.5" opacity="0.55"/>
<line x1="416.1" y1="182.19" x2="420.70000000000005" y2="182.19" stroke="#3a3a3a" stroke-width="0.5" opacity="0.55"/>
<line x1="72.8" y1="177.33" x2="68.2" y2="177.33" stroke="#3a3a3a" stroke-width="0.5" opacity="0.55"/>
<line x1="416.1" y1="177.33" x2="420.70000000000005" y2="177.33" stroke="#3a3a3a" stroke-width="0.5" opacity="0.55"/>
<line x1="72.8" y1="172.47" x2="68.2" y2="172.47" stroke="#3a3a3a" stroke-width="0.5" opacity="0.55"/>
<line x1="416.1" y1="172.47" x2="420.70000000000005" y2="172.47" stroke="#3a3a3a" stroke-width="0.5" opacity="0.55"/>
<line x1="72.8" y1="167.61" x2="68.2" y2="167.61" stroke="#3a3a3a" stroke-width="0.5" opacity="0.55"/>
<line x1="416.1" y1="167.61" x2="420.70000000000005" y2="167.61" stroke="#3a3a3a" stroke-width="0.5" opacity="0.55"/>
<line x1="72.8" y1="162.75" x2="68.2" y2="162.75" stroke="#3a3a3a" stroke-width="0.5" opacity="0.55"/>
<line x1="416.1" y1="162.75" x2="420.70000000000005" y2="162.75" stroke="#3a3a3a" stroke-width="0.5" opacity="0.55"/>
<line x1="72.8" y1="157.89" x2="68.2" y2="157.89" stroke="#3a3a3a" stroke-width="0.5" opacity="0.55"/>
<line x1="416.1" y1="157.89" x2="420.70000000000005" y2="157.89" stroke="#3a3a3a" stroke-width="0.5" opacity="0.55"/>
<line x1="72.8" y1="153.03" x2="68.2" y2="153.03" stroke="#3a3a3a" stroke-width="0.5" opacity="0.55"/>
<line x1="416.1" y1="153.03" x2="420.70000000000005" y2="153.03" stroke="#3a3a3a" stroke-width="0.5" opacity="0.55"/>
<line x1="72.8" y1="148.17" x2="63.599999999999994" y2="148.17" stroke="#3a3a3a" stroke-width="0.5" opacity="1"/>
<line x1="416.1" y1="148.17" x2="425.3" y2="148.17" stroke="#3a3a3a" stroke-width="0.5" opacity="1"/>
<line x1="72.8" y1="143.31" x2="68.2" y2="143.31" stroke="#3a3a3a" stroke-width="0.5" opacity="0.55"/>
<line x1="416.1" y1="143.31" x2="420.70000000000005" y2="143.31" stroke="#3a3a3a" stroke-width="0.5" opacity="0.55"/>
<line x1="72.8" y1="138.44" x2="68.2" y2="138.44" stroke="#3a3a3a" stroke-width="0.5" opacity="0.55"/>
<line x1="416.1" y1="138.44" x2="420.70000000000005" y2="138.44" stroke="#3a3a3a" stroke-width="0.5" opacity="0.55"/>
<line x1="72.8" y1="133.58" x2="68.2" y2="133.58" stroke="#3a3a3a" stroke-width="0.5" opacity="0.55"/>
<line x1="416.1" y1="133.58" x2="420.70000000000005" y2="133.58" stroke="#3a3a3a" stroke-width="0.5" opacity="0.55"/>
<line x1="72.8" y1="128.72" x2="68.2" y2="128.72" stroke="#3a3a3a" stroke-width="0.5" opacity="0.55"/>
<line x1="416.1" y1="128.72" x2="420.70000000000005" y2="128.72" stroke="#3a3a3a" stroke-width="0.5" opacity="0.55"/>
<line x1="72.8" y1="123.86" x2="68.2" y2="123.86" stroke="#3a3a3a" stroke-width="0.5" opacity="0.55"/>
<line x1="416.1" y1="123.86" x2="420.70000000000005" y2="123.86" stroke="#3a3a3a" stroke-width="0.5" opacity="0.55"/>
<line x1="72.8" y1="119.00" x2="68.2" y2="119.00" stroke="#3a3a3a" stroke-width="0.5" opacity="0.55"/>
<line x1="416.1" y1="119.00" x2="420.70000000000005" y2="119.00" stroke="#3a3a3a" stroke-width="0.5" opacity="0.55"/>
<line x1="72.8" y1="114.14" x2="68.2" y2="114.14" stroke="#3a3a3a" stroke-width="0.5" opacity="0.55"/>
<line x1="416.1" y1="114.14" x2="420.70000000000005" y2="114.14" stroke="#3a3a3a" stroke-width="0.5" opacity="0.55"/>
<line x1="72.8" y1="109.28" x2="68.2" y2="109.28" stroke="#3a3a3a" stroke-width="0.5" opacity="0.55"/>
<line x1="416.1" y1="109.28" x2="420.70000000000005" y2="109.28" stroke="#3a3a3a" stroke-width="0.5" opacity="0.55"/>
<line x1="72.8" y1="104.42" x2="68.2" y2="104.42" stroke="#3a3a3a" stroke-width="0.5" opacity="0.55"/>
<line x1="416.1" y1="104.42" x2="420.70000000000005" y2="104.42" stroke="#3a3a3a" stroke-width="0.5" opacity="0.55"/>
<line x1="72.8" y1="99.56" x2="68.2" y2="99.56" stroke="#3a3a3a" stroke-width="0.5" opacity="0.55"/>
<line x1="416.1" y1="99.56" x2="420.70000000000005" y2="99.56" stroke="#3a3a3a" stroke-width="0.5" opacity="0.55"/>
<line x1="72.8" y1="94.69" x2="68.2" y2="94.69" stroke="#3a3a3a" stroke-width="0.5" opacity="0.55"/>
<line x1="416.1" y1="94.69" x2="420.70000000000005" y2="94.69" stroke="#3a3a3a" stroke-width="0.5" opacity="0.55"/>
<line x1="72.8" y1="89.83" x2="63.599999999999994" y2="89.83" stroke="#3a3a3a" stroke-width="0.5" opacity="1"/>
<line x1="416.1" y1="89.83" x2="425.3" y2="89.83" stroke="#3a3a3a" stroke-width="0.5" opacity="1"/>
<line x1="72.8" y1="84.97" x2="68.2" y2="84.97" stroke="#3a3a3a" stroke-width="0.5" opacity="0.55"/>
<line x1="416.1" y1="84.97" x2="420.70000000000005" y2="84.97" stroke="#3a3a3a" stroke-width="0.5" opacity="0.55"/>
<line x1="72.8" y1="80.11" x2="68.2" y2="80.11" stroke="#3a3a3a" stroke-width="0.5" opacity="0.55"/>
<line x1="416.1" y1="80.11" x2="420.70000000000005" y2="80.11" stroke="#3a3a3a" stroke-width="0.5" opacity="0.55"/>
<line x1="72.8" y1="75.25" x2="68.2" y2="75.25" stroke="#3a3a3a" stroke-width="0.5" opacity="0.55"/>
<line x1="416.1" y1="75.25" x2="420.70000000000005" y2="75.25" stroke="#3a3a3a" stroke-width="0.5" opacity="0.55"/>
<line x1="72.8" y1="70.39" x2="68.2" y2="70.39" stroke="#3a3a3a" stroke-width="0.5" opacity="0.55"/>
<line x1="416.1" y1="70.39" x2="420.70000000000005" y2="70.39" stroke="#3a3a3a" stroke-width="0.5" opacity="0.55"/>
<line x1="72.8" y1="65.53" x2="68.2" y2="65.53" stroke="#3a3a3a" stroke-width="0.5" opacity="0.55"/>
<line x1="416.1" y1="65.53" x2="420.70000000000005" y2="65.53" stroke="#3a3a3a" stroke-width="0.5" opacity="0.55"/>
<line x1="72.8" y1="60.67" x2="68.2" y2="60.67" stroke="#3a3a3a" stroke-width="0.5" opacity="0.55"/>
<line x1="416.1" y1="60.67" x2="420.70000000000005" y2="60.67" stroke="#3a3a3a" stroke-width="0.5" opacity="0.55"/>
<line x1="72.8" y1="55.81" x2="68.2" y2="55.81" stroke="#3a3a3a" stroke-width="0.5" opacity="0.55"/>
<line x1="416.1" y1="55.81" x2="420.70000000000005" y2="55.81" stroke="#3a3a3a" stroke-width="0.5" opacity="0.55"/>
<line x1="72.8" y1="50.94" x2="68.2" y2="50.94" stroke="#3a3a3a" stroke-width="0.5" opacity="0.55"/>
<line x1="416.1" y1="50.94" x2="420.70000000000005" y2="50.94" stroke="#3a3a3a" stroke-width="0.5" opacity="0.55"/>
<line x1="72.8" y1="46.08" x2="68.2" y2="46.08" stroke="#3a3a3a" stroke-width="0.5" opacity="0.55"/>
<line x1="416.1" y1="46.08" x2="420.70000000000005" y2="46.08" stroke="#3a3a3a" stroke-width="0.5" opacity="0.55"/>
<line x1="72.8" y1="41.22" x2="68.2" y2="41.22" stroke="#3a3a3a" stroke-width="0.5" opacity="0.55"/>
<line x1="416.1" y1="41.22" x2="420.70000000000005" y2="41.22" stroke="#3a3a3a" stroke-width="0.5" opacity="0.55"/>
<line x1="72.8" y1="36.36" x2="68.2" y2="36.36" stroke="#3a3a3a" stroke-width="0.5" opacity="0.55"/>
<line x1="416.1" y1="36.36" x2="420.70000000000005" y2="36.36" stroke="#3a3a3a" stroke-width="0.5" opacity="0.55"/>
<line x1="72.8" y1="31.50" x2="63.599999999999994" y2="31.50" stroke="#3a3a3a" stroke-width="0.5" opacity="1"/>
<line x1="416.1" y1="31.50" x2="425.3" y2="31.50" stroke="#3a3a3a" stroke-width="0.5" opacity="1"/>
</g>
<path d="M124.45 381.6 L128.3 373 Q131.27 366.6 134.2 373 L138.1 381.6 Z" fill="#000"/>
<g>
<circle cx="94.7" cy="70.6" r="2.55" fill="#d9df50" stroke="#6b6840" stroke-width="0.45"/>
<circle cx="101.8" cy="70.6" r="2.55" fill="#d9df50" stroke="#6b6840" stroke-width="0.45"/>
<circle cx="123.8" cy="65.7" r="2.55" fill="#d9df50" stroke="#6b6840" stroke-width="0.45"/>
<circle cx="94.7" cy="128.6" r="2.55" fill="#d9df50" stroke="#6b6840" stroke-width="0.45"/>
<circle cx="101.8" cy="128.6" r="2.55" fill="#d9df50" stroke="#6b6840" stroke-width="0.45"/>
<circle cx="123.8" cy="124.1" r="2.55" fill="#f0e050" stroke="#6b6840" stroke-width="0.45"/>
<circle cx="94.7" cy="187" r="2.55" fill="#d9df50" stroke="#6b6840" stroke-width="0.45"/>
<circle cx="101.8" cy="187" r="2.55" fill="#d9df50" stroke="#6b6840" stroke-width="0.45"/>
<circle cx="123.8" cy="187" r="2.55" fill="#d9df50" stroke="#6b6840" stroke-width="0.45"/>
<circle cx="94.7" cy="240.9" r="2.55" fill="#d9df50" stroke="#6b6840" stroke-width="0.45"/>
<circle cx="101.8" cy="240.9" r="2.55" fill="#d9df50" stroke="#6b6840" stroke-width="0.45"/>
<circle cx="123.8" cy="245.5" r="2.55" fill="#d9df50" stroke="#6b6840" stroke-width="0.45"/>
<circle cx="94.7" cy="299" r="2.55" fill="#d9df50" stroke="#6b6840" stroke-width="0.45"/>
<circle cx="138.2" cy="294.1" r="2.55" fill="#d9df50" stroke="#6b6840" stroke-width="0.45"/>
<circle cx="167.6" cy="294.1" r="2.55" fill="#d9df50" stroke="#6b6840" stroke-width="0.45"/>
<circle cx="175" cy="294.1" r="2.55" fill="#d9df50" stroke="#6b6840" stroke-width="0.45"/>
<circle cx="233.3" cy="294" r="2.55" fill="#f9c64e" stroke="#6b6840" stroke-width="0.45"/>
<circle cx="218.8" cy="337.9" r="2.55" fill="#fbd24a" stroke="#6b6840" stroke-width="0.45"/>
<circle cx="233.4" cy="337.9" r="2.55" fill="#f9ae44" stroke="#6b6840" stroke-width="0.45"/>
<circle cx="233.4" cy="357.3" r="2.55" fill="#f8e452" stroke="#6b6840" stroke-width="0.45"/>
<circle cx="145.9" cy="357.2" r="2.55" fill="#f8e452" stroke="#6b6840" stroke-width="0.45"/>
</g>
<g>
<text transform="translate(54.6,386.20) rotate(-14.6) scale(1,1.09)" text-anchor="end" font-size="15.1">201101</text>
<text transform="translate(54.6,327.87) rotate(-14.6) scale(1,1.09)" text-anchor="end" font-size="15.1">201201</text>
<text transform="translate(54.6,269.53) rotate(-14.6) scale(1,1.09)" text-anchor="end" font-size="15.1">201301</text>
<text transform="translate(54.6,211.20) rotate(-14.6) scale(1,1.09)" text-anchor="end" font-size="15.1">201401</text>
<text transform="translate(54.6,152.87) rotate(-14.6) scale(1,1.09)" text-anchor="end" font-size="15.1">201501</text>
<text transform="translate(54.6,94.53) rotate(-14.6) scale(1,1.09)" text-anchor="end" font-size="15.1">201601</text>
<text transform="translate(54.6,36.20) rotate(-14.6) scale(1,1.09)" text-anchor="end" font-size="15.1">201701</text>
<text x="112.97" y="414.8" text-anchor="middle" font-size="15.8">135E</text>
<text x="244.45" y="414.8" text-anchor="middle" font-size="15.8">180</text>
<text x="375.93" y="414.8" text-anchor="middle" font-size="15.8">135W</text>
<text x="71.6" y="20.2" font-size="15.8">Latitude: 34N</text>
<text x="416.3" y="20.2" text-anchor="end" font-size="15.8">Cs</text>
<text transform="translate(381.7,12.2) scale(1,1.11)" font-size="9.3">137</text>
<text x="469.4" y="65.6" text-anchor="middle" font-size="15.8">Bq/L</text>
<text x="469.5" y="113.95" font-size="15.8">10</text>
<text transform="translate(486.9,105.85) scale(1,1.11)" font-size="9.3">0</text>
<text x="469.5" y="157.82" font-size="15.8">10</text>
<text transform="translate(486.9,149.72) scale(1,1.11)" font-size="9.3">-1</text>
<text x="469.5" y="201.70" font-size="15.8">10</text>
<text transform="translate(486.9,193.60) scale(1,1.11)" font-size="9.3">-2</text>
<text x="469.5" y="245.57" font-size="15.8">10</text>
<text transform="translate(486.9,237.47) scale(1,1.11)" font-size="9.3">-3</text>
<text x="469.5" y="289.45" font-size="15.8">10</text>
<text transform="translate(486.9,281.35) scale(1,1.11)" font-size="9.3">-4</text>
<text x="469.5" y="333.32" font-size="15.8">10</text>
<text transform="translate(486.9,325.22) scale(1,1.11)" font-size="9.3">-5</text>
<text x="469.5" y="377.20" font-size="15.8">10</text>
<text transform="translate(486.9,369.10) scale(1,1.11)" font-size="9.3">-6</text>
</g>
</svg>
</body></html>
